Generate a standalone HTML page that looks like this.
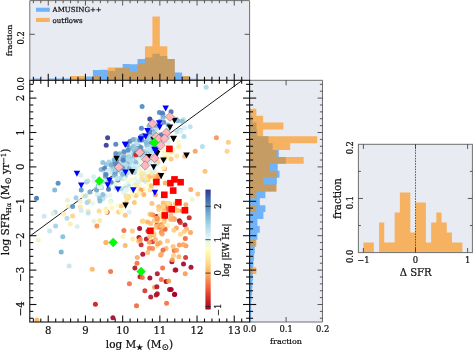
<!DOCTYPE html>
<html lang="en"><head><meta charset="utf-8"><title>SFR vs stellar mass</title>
<style>html,body{margin:0;padding:0;background:#fff}svg{display:block;will-change:transform}</style></head>
<body>
<svg width="473" height="352" viewBox="0 0 473 352" font-family='"DejaVu Serif", "Liberation Serif", serif' fill="#111">
<style>text{stroke:#111;stroke-width:0.22px}</style>
<rect x="0.00" y="0.00" width="473.00" height="352.00" fill="#fff" />
<rect x="29.80" y="0.60" width="219.80" height="79.70" fill="#e9ebf3" />
<path d="M33.37 80.30L33.37 78.50L40.81 78.50L40.81 80.30ZM48.25 80.30L48.25 78.50L55.69 78.50L55.69 78.50L63.13 78.50L63.13 78.50L70.57 78.50L70.57 78.80L78.01 78.80L78.01 78.30L85.45 78.30L85.45 76.40L92.89 76.40L92.89 70.10L100.33 70.10L100.33 69.70L107.77 69.70L107.77 71.10L115.21 71.10L115.21 68.00L122.65 68.00L122.65 63.90L130.09 63.90L130.09 64.30L137.53 64.30L137.53 58.90L144.97 58.90L144.97 57.60L152.41 57.60L152.41 53.80L159.85 53.80L159.85 55.90L167.29 55.90L167.29 58.90L174.73 58.90L174.73 72.50L182.17 72.50L182.17 76.50L189.61 76.50L189.61 78.70L197.05 78.70L197.05 79.30L204.49 79.30L204.49 79.30L211.93 79.30L211.93 80.30Z" fill="#1e90ff" fill-opacity="0.6"/>
<path d="M70.57 80.30L70.57 76.04L78.01 76.04L78.01 76.04L85.45 76.04L85.45 80.30ZM92.89 80.30L92.89 76.04L100.33 76.04L100.33 80.30ZM107.77 80.30L107.77 67.52L115.21 67.52L115.21 67.52L122.65 67.52L122.65 67.52L130.09 67.52L130.09 71.78L137.53 71.78L137.53 63.26L144.97 63.26L144.97 46.22L152.41 46.22L152.41 16.40L159.85 16.40L159.85 46.22L167.29 46.22L167.29 59.00L174.73 59.00L174.73 80.30ZM182.17 80.30L182.17 76.04L189.61 76.04L189.61 80.30Z" fill="#ff8c00" fill-opacity="0.6"/>
<rect x="249.60" y="80.30" width="72.90" height="241.70" fill="#e9ebf3" />
<path d="M249.60 108.75L250.60 108.75L250.60 115.64L252.60 115.64L252.60 122.53L256.50 122.53L256.50 129.42L257.30 129.42L257.30 136.31L268.50 136.31L268.50 143.20L272.60 143.20L272.60 150.09L278.80 150.09L278.80 156.98L285.90 156.98L285.90 163.87L277.70 163.87L277.70 170.76L279.50 170.76L279.50 177.65L276.90 177.65L276.90 184.54L276.10 184.54L276.10 191.43L265.40 191.43L265.40 198.32L259.80 198.32L259.80 205.21L265.40 205.21L265.40 212.10L263.40 212.10L263.40 218.99L257.40 218.99L257.40 225.88L259.80 225.88L259.80 232.77L257.40 232.77L257.40 239.66L255.60 239.66L255.60 246.55L254.80 246.55L254.80 253.44L254.10 253.44L254.10 260.33L253.40 260.33L253.40 267.22L252.60 267.22L252.60 274.11L252.80 274.11L252.80 281.00L252.40 281.00L252.40 287.89L252.10 287.89L252.10 294.78L251.60 294.78L251.60 301.67L251.20 301.67L251.20 308.56L251.20 308.56L251.20 315.45L251.20 315.45L251.20 322.00L249.60 322.00Z" fill="#1e90ff" fill-opacity="0.6"/>
<path d="M249.60 108.75L256.36 108.75L256.36 115.64L263.12 115.64L263.12 122.53L283.40 122.53L283.40 129.42L263.12 129.42L263.12 136.31L317.20 136.31L317.20 143.20L290.16 143.20L290.16 150.09L276.64 150.09L276.64 156.98L303.68 156.98L303.68 163.87L269.88 163.87L269.88 170.76L276.64 170.76L276.64 177.65L263.12 177.65L263.12 184.54L276.64 184.54L276.64 191.43L256.36 191.43L256.36 198.32L249.60 198.32ZM249.60 205.21L256.36 205.21L256.36 212.10L249.60 212.10ZM249.60 239.66L256.36 239.66L256.36 246.55L249.60 246.55ZM249.60 267.22L256.36 267.22L256.36 274.11L249.60 274.11Z" fill="#ff8c00" fill-opacity="0.6"/>
<rect x="358.40" y="144.30" width="114.00" height="108.30" fill="#e9ebf3" />
<path d="M363.40 252.60L363.40 242.60L368.61 242.60L368.61 242.60L373.82 242.60L373.82 252.60ZM379.03 252.60L379.03 222.60L384.24 222.60L384.24 242.60L389.45 242.60L389.45 242.60L394.66 242.60L394.66 212.60L399.87 212.60L399.87 192.60L405.08 192.60L405.08 192.60L410.29 192.60L410.29 232.60L415.50 232.60L415.50 202.60L420.71 202.60L420.71 202.60L425.92 202.60L425.92 242.60L431.13 242.60L431.13 222.60L436.34 222.60L436.34 212.60L441.55 212.60L441.55 222.60L446.76 222.60L446.76 232.60L451.97 232.60L451.97 242.60L457.18 242.60L457.18 242.60L462.39 242.60L462.39 252.60Z" fill="#ff8c00" fill-opacity="0.6"/>
<line x1="415.50" y1="144.30" x2="415.50" y2="252.60" stroke="#222" stroke-width="0.7" stroke-dasharray="1.6 1.1"/>
<line x1="29.8" y1="236.2" x2="242.3" y2="80.3" stroke="#1a1a1a" stroke-width="1"/>
<g><circle cx="36.5" cy="198.3" r="2.5" fill="#3a78b8" fill-opacity="0.9"/>
<circle cx="58.1" cy="183.3" r="2.5" fill="#4a88c4" fill-opacity="0.9"/>
<circle cx="54.7" cy="190.1" r="2.5" fill="#7ab4d8" fill-opacity="0.9"/>
<circle cx="80.8" cy="175.2" r="2.5" fill="#d8ecf4" fill-opacity="0.9"/>
<circle cx="81.2" cy="190.1" r="2.5" fill="#5a9acb" fill-opacity="0.9"/>
<circle cx="76.0" cy="197.8" r="2.5" fill="#9ccae4" fill-opacity="0.9"/>
<circle cx="67.5" cy="200.3" r="2.5" fill="#e8f0d0" fill-opacity="0.9"/>
<circle cx="68.4" cy="206.3" r="2.5" fill="#fdeeb0" fill-opacity="0.9"/>
<circle cx="72.6" cy="206.5" r="2.5" fill="#4f94c8" fill-opacity="0.9"/>
<circle cx="80.3" cy="207.1" r="2.5" fill="#fde8a0" fill-opacity="0.9"/>
<circle cx="88.8" cy="201.2" r="2.5" fill="#fdd49a" fill-opacity="0.9"/>
<circle cx="87.1" cy="195.2" r="2.5" fill="#fff5c0" fill-opacity="0.9"/>
<circle cx="82.9" cy="196.0" r="2.5" fill="#fff5c0" fill-opacity="0.9"/>
<circle cx="87.1" cy="202.6" r="2.5" fill="#a8d4e8" fill-opacity="0.9"/>
<circle cx="80.3" cy="201.4" r="2.5" fill="#e8f3d8" fill-opacity="0.9"/>
<circle cx="81.2" cy="210.6" r="2.5" fill="#d0eaf2" fill-opacity="0.9"/>
<circle cx="88.0" cy="211.1" r="2.5" fill="#fdeea8" fill-opacity="0.9"/>
<circle cx="99.1" cy="211.1" r="2.5" fill="#fdd98a" fill-opacity="0.9"/>
<circle cx="107.1" cy="212.3" r="2.5" fill="#d73027" fill-opacity="0.9"/>
<circle cx="105.9" cy="208.9" r="2.5" fill="#fdf0b0" fill-opacity="0.9"/>
<circle cx="55.1" cy="212.3" r="2.5" fill="#a8d4e8" fill-opacity="0.9"/>
<circle cx="53.0" cy="213.6" r="2.5" fill="#e4f1dc" fill-opacity="0.9"/>
<circle cx="44.2" cy="216.2" r="2.5" fill="#c8e6f0" fill-opacity="0.9"/>
<circle cx="63.6" cy="214.0" r="2.5" fill="#fdf0b0" fill-opacity="0.9"/>
<circle cx="72.6" cy="215.9" r="2.5" fill="#fdd080" fill-opacity="0.9"/>
<circle cx="67.0" cy="218.3" r="2.5" fill="#b0d8ea" fill-opacity="0.9"/>
<circle cx="70.4" cy="223.9" r="2.5" fill="#fdf0a8" fill-opacity="0.9"/>
<circle cx="55.6" cy="225.9" r="2.5" fill="#9fd0e6" fill-opacity="0.9"/>
<circle cx="77.2" cy="226.4" r="2.5" fill="#d8f0ec" fill-opacity="0.9"/>
<circle cx="94.0" cy="221.3" r="2.5" fill="#e4f1dc" fill-opacity="0.9"/>
<circle cx="96.9" cy="225.9" r="2.5" fill="#fd8d3c" fill-opacity="0.9"/>
<circle cx="49.6" cy="231.0" r="2.5" fill="#c0e4f0" fill-opacity="0.9"/>
<circle cx="62.8" cy="236.7" r="2.5" fill="#7fbcdc" fill-opacity="0.9"/>
<circle cx="38.2" cy="240.1" r="2.5" fill="#f0f5c0" fill-opacity="0.9"/>
<circle cx="61.2" cy="252.0" r="2.5" fill="#6aaed6" fill-opacity="0.9"/>
<circle cx="105.9" cy="242.6" r="2.5" fill="#fdb567" fill-opacity="0.9"/>
<circle cx="69.1" cy="266.0" r="2.5" fill="#c4e4f0" fill-opacity="0.9"/>
<circle cx="92.2" cy="269.3" r="2.5" fill="#fdb567" fill-opacity="0.9"/>
<circle cx="110.6" cy="271.5" r="2.5" fill="#f46d43" fill-opacity="0.9"/>
<circle cx="95.4" cy="304.3" r="2.5" fill="#c4161c" fill-opacity="0.9"/>
<circle cx="112.9" cy="317.8" r="2.5" fill="#a50026" fill-opacity="0.9"/>
<circle cx="36.9" cy="320.0" r="2.5" fill="#fdb45c" fill-opacity="0.9"/>
<circle cx="107.6" cy="137.8" r="2.5" fill="#313695" fill-opacity="0.9"/>
<circle cx="106.2" cy="145.3" r="2.5" fill="#313695" fill-opacity="0.9"/>
<circle cx="115.8" cy="144.3" r="2.5" fill="#4a7fbd" fill-opacity="0.9"/>
<circle cx="142.1" cy="106.4" r="2.5" fill="#4a88c4" fill-opacity="0.9"/>
<circle cx="159.4" cy="112.6" r="2.5" fill="#4a88c4" fill-opacity="0.9"/>
<circle cx="162.8" cy="114.6" r="2.5" fill="#5a95ca" fill-opacity="0.9"/>
<circle cx="149.8" cy="118.9" r="2.5" fill="#313695" fill-opacity="0.9"/>
<circle cx="141.4" cy="128.3" r="2.5" fill="#4a88c4" fill-opacity="0.9"/>
<circle cx="206.2" cy="87.3" r="2.5" fill="#a8d8ea" fill-opacity="0.9"/>
<circle cx="184.5" cy="127.8" r="2.5" fill="#d6eef5" fill-opacity="0.9"/>
<circle cx="216.4" cy="137.7" r="2.5" fill="#f98e52" fill-opacity="0.9"/>
<circle cx="228.3" cy="142.3" r="2.5" fill="#fdc978" fill-opacity="0.9"/>
<circle cx="227.1" cy="151.3" r="2.5" fill="#fdd080" fill-opacity="0.9"/>
<circle cx="202.4" cy="146.5" r="2.5" fill="#b0dcea" fill-opacity="0.9"/>
<circle cx="195.2" cy="151.3" r="2.5" fill="#fba05b" fill-opacity="0.9"/>
<circle cx="205.0" cy="171.3" r="2.5" fill="#fdc070" fill-opacity="0.9"/>
<circle cx="190.8" cy="189.5" r="2.5" fill="#fba05b" fill-opacity="0.9"/>
<circle cx="197.8" cy="193.9" r="2.5" fill="#fdc27a" fill-opacity="0.9"/>
<circle cx="192.2" cy="199.5" r="2.5" fill="#edf5d0" fill-opacity="0.9"/>
<circle cx="125.2" cy="215.2" r="2.5" fill="#fdc27a" fill-opacity="0.9"/>
<circle cx="129.3" cy="212.2" r="2.5" fill="#d8eef4" fill-opacity="0.9"/>
<circle cx="123.9" cy="230.6" r="2.5" fill="#f46d43" fill-opacity="0.9"/>
<circle cx="123.0" cy="236.6" r="2.5" fill="#fff3b8" fill-opacity="0.9"/>
<circle cx="132.8" cy="239.1" r="2.5" fill="#fee9a0" fill-opacity="0.9"/>
<circle cx="106.0" cy="242.5" r="2.5" fill="#fdb567" fill-opacity="0.9"/>
<circle cx="125.2" cy="245.4" r="2.5" fill="#fdb567" fill-opacity="0.9"/>
<circle cx="139.6" cy="228.4" r="2.5" fill="#a50026" fill-opacity="0.9"/>
<circle cx="156.8" cy="216.6" r="2.5" fill="#a50026" fill-opacity="0.9"/>
<circle cx="146.4" cy="239.1" r="2.5" fill="#b0102a" fill-opacity="0.9"/>
<circle cx="152.5" cy="241.7" r="2.5" fill="#d73027" fill-opacity="0.9"/>
<circle cx="129.4" cy="283.8" r="2.5" fill="#f46d43" fill-opacity="0.9"/>
<circle cx="136.5" cy="305.8" r="2.5" fill="#f4623c" fill-opacity="0.9"/>
<circle cx="137.0" cy="263.2" r="2.5" fill="#f46d43" fill-opacity="0.9"/>
<circle cx="134.9" cy="267.9" r="2.5" fill="#b0102a" fill-opacity="0.9"/>
<circle cx="140.0" cy="276.7" r="2.5" fill="#b0102a" fill-opacity="0.9"/>
<circle cx="142.3" cy="277.6" r="2.5" fill="#f46d43" fill-opacity="0.9"/>
<circle cx="149.9" cy="278.1" r="2.5" fill="#a50026" fill-opacity="0.9"/>
<circle cx="157.3" cy="273.7" r="2.5" fill="#b0102a" fill-opacity="0.9"/>
<circle cx="162.6" cy="267.9" r="2.5" fill="#f46d43" fill-opacity="0.9"/>
<circle cx="175.8" cy="270.0" r="2.5" fill="#a50026" fill-opacity="0.9"/>
<circle cx="161.3" cy="279.4" r="2.5" fill="#f46d43" fill-opacity="0.9"/>
<circle cx="166.1" cy="281.5" r="2.5" fill="#a50026" fill-opacity="0.9"/>
<circle cx="168.7" cy="281.1" r="2.5" fill="#fd9a4c" fill-opacity="0.9"/>
<circle cx="154.6" cy="287.3" r="2.5" fill="#fd9a4c" fill-opacity="0.9"/>
<circle cx="156.9" cy="286.8" r="2.5" fill="#b0102a" fill-opacity="0.9"/>
<circle cx="144.9" cy="290.8" r="2.5" fill="#d73027" fill-opacity="0.9"/>
<circle cx="169.6" cy="289.6" r="2.5" fill="#a50026" fill-opacity="0.9"/>
<circle cx="174.5" cy="294.4" r="2.5" fill="#a50026" fill-opacity="0.9"/>
<circle cx="157.3" cy="293.8" r="2.5" fill="#b0102a" fill-opacity="0.9"/>
<circle cx="156.2" cy="294.9" r="2.5" fill="#b0102a" fill-opacity="0.9"/>
<circle cx="150.7" cy="297.0" r="2.5" fill="#b0102a" fill-opacity="0.9"/>
<circle cx="166.6" cy="303.2" r="2.5" fill="#f46d43" fill-opacity="0.9"/>
<circle cx="171.9" cy="261.8" r="2.5" fill="#a50026" fill-opacity="0.9"/>
<circle cx="179.3" cy="245.1" r="2.5" fill="#fd9a4c" fill-opacity="0.9"/>
<circle cx="185.9" cy="245.8" r="2.5" fill="#fd9a4c" fill-opacity="0.9"/>
<circle cx="174.2" cy="250.5" r="2.5" fill="#f46d43" fill-opacity="0.9"/>
<circle cx="178.9" cy="256.8" r="2.5" fill="#fdb567" fill-opacity="0.9"/>
<circle cx="185.6" cy="257.5" r="2.5" fill="#d73027" fill-opacity="0.9"/>
<circle cx="172.3" cy="259.8" r="2.5" fill="#fd9a4c" fill-opacity="0.9"/>
<circle cx="183.5" cy="264.0" r="2.5" fill="#a50026" fill-opacity="0.9"/>
<circle cx="191.0" cy="267.3" r="2.5" fill="#a50026" fill-opacity="0.9"/>
<circle cx="175.1" cy="269.9" r="2.5" fill="#b0102a" fill-opacity="0.9"/>
<circle cx="185.2" cy="273.8" r="2.5" fill="#fd9a4c" fill-opacity="0.9"/>
<circle cx="171.2" cy="289.4" r="2.5" fill="#a50026" fill-opacity="0.9"/>
<circle cx="174.7" cy="294.3" r="2.5" fill="#a50026" fill-opacity="0.9"/>
<circle cx="179.4" cy="220.8" r="2.5" fill="#a50026" fill-opacity="0.9"/>
<circle cx="185.0" cy="225.1" r="2.5" fill="#b0102a" fill-opacity="0.9"/>
<circle cx="124.4" cy="161.6" r="2.5" fill="#addae9" fill-opacity="0.9"/>
<circle cx="123.1" cy="168.6" r="2.5" fill="#a2d2e5" fill-opacity="0.9"/>
<circle cx="152.8" cy="142.9" r="2.5" fill="#94c6df" fill-opacity="0.9"/>
<circle cx="134.1" cy="156.7" r="2.5" fill="#bae1ed" fill-opacity="0.9"/>
<circle cx="92.8" cy="203.2" r="2.5" fill="#e7f6ec" fill-opacity="0.9"/>
<circle cx="119.7" cy="153.7" r="2.5" fill="#75aed1" fill-opacity="0.9"/>
<circle cx="136.8" cy="153.4" r="2.5" fill="#c1e4ef" fill-opacity="0.9"/>
<circle cx="167.8" cy="144.1" r="2.5" fill="#f2fad7" fill-opacity="0.9"/>
<circle cx="122.4" cy="168.1" r="2.5" fill="#8ec2dc" fill-opacity="0.9"/>
<circle cx="135.5" cy="164.0" r="2.5" fill="#b0dcea" fill-opacity="0.9"/>
<circle cx="112.2" cy="172.7" r="2.5" fill="#92c5de" fill-opacity="0.9"/>
<circle cx="97.2" cy="194.6" r="2.5" fill="#d4edf5" fill-opacity="0.9"/>
<circle cx="127.7" cy="170.1" r="2.5" fill="#aad8e9" fill-opacity="0.9"/>
<circle cx="128.6" cy="162.4" r="2.5" fill="#c2e4f0" fill-opacity="0.9"/>
<circle cx="161.7" cy="135.4" r="2.5" fill="#9fcfe4" fill-opacity="0.9"/>
<circle cx="101.4" cy="187.5" r="2.5" fill="#73acd1" fill-opacity="0.9"/>
<circle cx="108.7" cy="181.6" r="2.5" fill="#79b1d3" fill-opacity="0.9"/>
<circle cx="85.3" cy="195.9" r="2.5" fill="#b9e0ed" fill-opacity="0.9"/>
<circle cx="88.2" cy="213.0" r="2.5" fill="#bbe1ee" fill-opacity="0.9"/>
<circle cx="113.8" cy="174.4" r="2.5" fill="#b3ddeb" fill-opacity="0.9"/>
<circle cx="135.4" cy="154.1" r="2.5" fill="#5e93c3" fill-opacity="0.9"/>
<circle cx="143.6" cy="151.5" r="2.5" fill="#7bb3d4" fill-opacity="0.9"/>
<circle cx="151.0" cy="141.9" r="2.5" fill="#eff9dd" fill-opacity="0.9"/>
<circle cx="116.1" cy="167.5" r="2.5" fill="#bde2ee" fill-opacity="0.9"/>
<circle cx="101.2" cy="169.6" r="2.5" fill="#7ab2d4" fill-opacity="0.9"/>
<circle cx="126.7" cy="163.4" r="2.5" fill="#87bcd9" fill-opacity="0.9"/>
<circle cx="115.4" cy="175.7" r="2.5" fill="#83b9d7" fill-opacity="0.9"/>
<circle cx="130.6" cy="179.8" r="2.5" fill="#fffcba" fill-opacity="0.9"/>
<circle cx="99.6" cy="185.0" r="2.5" fill="#b2dceb" fill-opacity="0.9"/>
<circle cx="123.4" cy="163.3" r="2.5" fill="#f1fad9" fill-opacity="0.9"/>
<circle cx="112.7" cy="169.2" r="2.5" fill="#4a7bb7" fill-opacity="0.9"/>
<circle cx="148.9" cy="142.7" r="2.5" fill="#94c6df" fill-opacity="0.9"/>
<circle cx="126.1" cy="162.2" r="2.5" fill="#8bc0db" fill-opacity="0.9"/>
<circle cx="130.0" cy="162.9" r="2.5" fill="#a4d3e6" fill-opacity="0.9"/>
<circle cx="120.6" cy="171.6" r="2.5" fill="#b2ddeb" fill-opacity="0.9"/>
<circle cx="150.3" cy="135.3" r="2.5" fill="#5c90c2" fill-opacity="0.9"/>
<circle cx="105.3" cy="177.8" r="2.5" fill="#94c6df" fill-opacity="0.9"/>
<circle cx="135.2" cy="159.2" r="2.5" fill="#5b90c2" fill-opacity="0.9"/>
<circle cx="183.5" cy="119.5" r="2.5" fill="#bde2ee" fill-opacity="0.9"/>
<circle cx="127.8" cy="153.3" r="2.5" fill="#8fc3dd" fill-opacity="0.9"/>
<circle cx="152.2" cy="155.0" r="2.5" fill="#d9eff6" fill-opacity="0.9"/>
<circle cx="151.0" cy="144.9" r="2.5" fill="#ddf2f7" fill-opacity="0.9"/>
<circle cx="122.5" cy="162.0" r="2.5" fill="#6fa8ce" fill-opacity="0.9"/>
<circle cx="144.0" cy="165.6" r="2.5" fill="#e5f5ee" fill-opacity="0.9"/>
<circle cx="114.3" cy="174.4" r="2.5" fill="#6197c5" fill-opacity="0.9"/>
<circle cx="126.9" cy="157.7" r="2.5" fill="#c6e6f1" fill-opacity="0.9"/>
<circle cx="104.8" cy="172.7" r="2.5" fill="#a9d7e8" fill-opacity="0.9"/>
<circle cx="132.1" cy="154.7" r="2.5" fill="#8ec2dc" fill-opacity="0.9"/>
<circle cx="159.5" cy="135.0" r="2.5" fill="#cce9f2" fill-opacity="0.9"/>
<circle cx="132.8" cy="162.9" r="2.5" fill="#e4f5f0" fill-opacity="0.9"/>
<circle cx="89.2" cy="191.6" r="2.5" fill="#dcf1f7" fill-opacity="0.9"/>
<circle cx="134.8" cy="165.3" r="2.5" fill="#9ecfe4" fill-opacity="0.9"/>
<circle cx="86.6" cy="181.9" r="2.5" fill="#9acce2" fill-opacity="0.9"/>
<circle cx="116.7" cy="161.0" r="2.5" fill="#4e7fb9" fill-opacity="0.9"/>
<circle cx="155.0" cy="131.1" r="2.5" fill="#578bbf" fill-opacity="0.9"/>
<circle cx="126.0" cy="168.7" r="2.5" fill="#79b1d3" fill-opacity="0.9"/>
<circle cx="161.3" cy="140.8" r="2.5" fill="#fffebd" fill-opacity="0.9"/>
<circle cx="121.5" cy="157.3" r="2.5" fill="#d4edf5" fill-opacity="0.9"/>
<circle cx="129.8" cy="155.0" r="2.5" fill="#9acce2" fill-opacity="0.9"/>
<circle cx="159.2" cy="144.0" r="2.5" fill="#aedbea" fill-opacity="0.9"/>
<circle cx="115.2" cy="165.3" r="2.5" fill="#eaf7e6" fill-opacity="0.9"/>
<circle cx="106.2" cy="170.7" r="2.5" fill="#b6deec" fill-opacity="0.9"/>
<circle cx="125.8" cy="165.0" r="2.5" fill="#80b7d6" fill-opacity="0.9"/>
<circle cx="135.1" cy="156.3" r="2.5" fill="#c1e4ef" fill-opacity="0.9"/>
<circle cx="125.6" cy="175.2" r="2.5" fill="#e3f4f3" fill-opacity="0.9"/>
<circle cx="153.6" cy="143.5" r="2.5" fill="#bce2ee" fill-opacity="0.9"/>
<circle cx="130.2" cy="154.9" r="2.5" fill="#97c9e0" fill-opacity="0.9"/>
<circle cx="104.1" cy="179.5" r="2.5" fill="#f8fccc" fill-opacity="0.9"/>
<circle cx="110.1" cy="182.5" r="2.5" fill="#f1fad8" fill-opacity="0.9"/>
<circle cx="127.4" cy="172.7" r="2.5" fill="#d3edf4" fill-opacity="0.9"/>
<circle cx="115.9" cy="187.9" r="2.5" fill="#b9e0ed" fill-opacity="0.9"/>
<circle cx="123.9" cy="151.4" r="2.5" fill="#afdbea" fill-opacity="0.9"/>
<circle cx="147.2" cy="142.9" r="2.5" fill="#4a7bb7" fill-opacity="0.9"/>
<circle cx="137.2" cy="163.3" r="2.5" fill="#f7fccd" fill-opacity="0.9"/>
<circle cx="149.7" cy="136.4" r="2.5" fill="#a5d4e6" fill-opacity="0.9"/>
<circle cx="119.7" cy="163.6" r="2.5" fill="#a6d5e7" fill-opacity="0.9"/>
<circle cx="109.6" cy="171.0" r="2.5" fill="#5082bb" fill-opacity="0.9"/>
<circle cx="127.4" cy="172.6" r="2.5" fill="#b2dceb" fill-opacity="0.9"/>
<circle cx="136.4" cy="150.2" r="2.5" fill="#a0d0e4" fill-opacity="0.9"/>
<circle cx="125.7" cy="166.3" r="2.5" fill="#aad8e8" fill-opacity="0.9"/>
<circle cx="111.2" cy="182.3" r="2.5" fill="#4a7bb7" fill-opacity="0.9"/>
<circle cx="155.1" cy="139.5" r="2.5" fill="#a7d6e7" fill-opacity="0.9"/>
<circle cx="167.1" cy="131.0" r="2.5" fill="#a7d5e7" fill-opacity="0.9"/>
<circle cx="141.5" cy="140.3" r="2.5" fill="#c0e3ef" fill-opacity="0.9"/>
<circle cx="159.2" cy="125.4" r="2.5" fill="#cfebf3" fill-opacity="0.9"/>
<circle cx="115.3" cy="160.7" r="2.5" fill="#7db4d5" fill-opacity="0.9"/>
<circle cx="176.7" cy="118.9" r="2.5" fill="#d0ebf4" fill-opacity="0.9"/>
<circle cx="100.4" cy="181.5" r="2.5" fill="#b3ddeb" fill-opacity="0.9"/>
<circle cx="110.8" cy="173.6" r="2.5" fill="#f6fbd0" fill-opacity="0.9"/>
<circle cx="113.5" cy="166.8" r="2.5" fill="#75aed1" fill-opacity="0.9"/>
<circle cx="140.1" cy="151.2" r="2.5" fill="#87bcd9" fill-opacity="0.9"/>
<circle cx="134.6" cy="163.0" r="2.5" fill="#72abd0" fill-opacity="0.9"/>
<circle cx="116.2" cy="171.8" r="2.5" fill="#aedbea" fill-opacity="0.9"/>
<circle cx="133.5" cy="145.9" r="2.5" fill="#8cc0db" fill-opacity="0.9"/>
<circle cx="139.3" cy="146.2" r="2.5" fill="#87bcd9" fill-opacity="0.9"/>
<circle cx="125.8" cy="173.4" r="2.5" fill="#b1dceb" fill-opacity="0.9"/>
<circle cx="109.5" cy="170.6" r="2.5" fill="#cfebf3" fill-opacity="0.9"/>
<circle cx="147.0" cy="160.3" r="2.5" fill="#eef8de" fill-opacity="0.9"/>
<circle cx="113.1" cy="170.0" r="2.5" fill="#5a8ec1" fill-opacity="0.9"/>
<circle cx="129.0" cy="168.6" r="2.5" fill="#b5deec" fill-opacity="0.9"/>
<circle cx="137.9" cy="147.5" r="2.5" fill="#cce9f2" fill-opacity="0.9"/>
<circle cx="130.9" cy="154.2" r="2.5" fill="#b7dfec" fill-opacity="0.9"/>
<circle cx="133.2" cy="161.0" r="2.5" fill="#4a7bb7" fill-opacity="0.9"/>
<circle cx="114.2" cy="175.0" r="2.5" fill="#87bcd9" fill-opacity="0.9"/>
<circle cx="125.9" cy="156.6" r="2.5" fill="#9ccde2" fill-opacity="0.9"/>
<circle cx="115.3" cy="172.6" r="2.5" fill="#aedaea" fill-opacity="0.9"/>
<circle cx="129.9" cy="154.7" r="2.5" fill="#4a7bb7" fill-opacity="0.9"/>
<circle cx="148.6" cy="147.1" r="2.5" fill="#a1d1e5" fill-opacity="0.9"/>
<circle cx="159.0" cy="140.3" r="2.5" fill="#e6f5ed" fill-opacity="0.9"/>
<circle cx="145.8" cy="155.6" r="2.5" fill="#f0f9db" fill-opacity="0.9"/>
<circle cx="124.9" cy="177.0" r="2.5" fill="#7eb5d5" fill-opacity="0.9"/>
<circle cx="141.4" cy="162.6" r="2.5" fill="#f4fbd2" fill-opacity="0.9"/>
<circle cx="147.2" cy="141.4" r="2.5" fill="#eaf7e6" fill-opacity="0.9"/>
<circle cx="128.9" cy="157.5" r="2.5" fill="#d5eef5" fill-opacity="0.9"/>
<circle cx="116.2" cy="183.3" r="2.5" fill="#cae8f2" fill-opacity="0.9"/>
<circle cx="135.5" cy="160.1" r="2.5" fill="#a1d1e5" fill-opacity="0.9"/>
<circle cx="101.1" cy="187.0" r="2.5" fill="#e1f3f7" fill-opacity="0.9"/>
<circle cx="106.3" cy="164.4" r="2.5" fill="#8fc3dd" fill-opacity="0.9"/>
<circle cx="102.8" cy="181.8" r="2.5" fill="#b2ddeb" fill-opacity="0.9"/>
<circle cx="123.2" cy="166.7" r="2.5" fill="#97c9e0" fill-opacity="0.9"/>
<circle cx="128.1" cy="168.6" r="2.5" fill="#c3e5f0" fill-opacity="0.9"/>
<circle cx="111.4" cy="169.0" r="2.5" fill="#bee2ee" fill-opacity="0.9"/>
<circle cx="95.7" cy="188.9" r="2.5" fill="#bbe1ee" fill-opacity="0.9"/>
<circle cx="129.1" cy="148.8" r="2.5" fill="#649ac7" fill-opacity="0.9"/>
<circle cx="156.8" cy="135.9" r="2.5" fill="#92c5de" fill-opacity="0.9"/>
<circle cx="118.3" cy="181.8" r="2.5" fill="#daf0f6" fill-opacity="0.9"/>
<circle cx="155.7" cy="146.9" r="2.5" fill="#b6deec" fill-opacity="0.9"/>
<circle cx="149.1" cy="126.1" r="2.5" fill="#7db4d5" fill-opacity="0.9"/>
<circle cx="128.4" cy="153.7" r="2.5" fill="#f5fbd2" fill-opacity="0.9"/>
<circle cx="128.2" cy="157.4" r="2.5" fill="#82b8d7" fill-opacity="0.9"/>
<circle cx="124.9" cy="159.1" r="2.5" fill="#73acd1" fill-opacity="0.9"/>
<circle cx="157.4" cy="130.3" r="2.5" fill="#ebf7e3" fill-opacity="0.9"/>
<circle cx="127.5" cy="161.5" r="2.5" fill="#4c7db8" fill-opacity="0.9"/>
<circle cx="131.8" cy="160.2" r="2.5" fill="#d9f0f6" fill-opacity="0.9"/>
<circle cx="131.3" cy="156.0" r="2.5" fill="#81b7d7" fill-opacity="0.9"/>
<circle cx="130.7" cy="161.5" r="2.5" fill="#aad8e8" fill-opacity="0.9"/>
<circle cx="87.9" cy="180.9" r="2.5" fill="#b6deec" fill-opacity="0.9"/>
<circle cx="124.7" cy="157.8" r="2.5" fill="#fffbb9" fill-opacity="0.9"/>
<circle cx="180.3" cy="130.3" r="2.5" fill="#a2d2e5" fill-opacity="0.9"/>
<circle cx="139.7" cy="153.4" r="2.5" fill="#94c7df" fill-opacity="0.9"/>
<circle cx="114.5" cy="173.0" r="2.5" fill="#85bbd9" fill-opacity="0.9"/>
<circle cx="137.8" cy="148.5" r="2.5" fill="#4a7bb7" fill-opacity="0.9"/>
<circle cx="117.6" cy="183.1" r="2.5" fill="#fffebe" fill-opacity="0.9"/>
<circle cx="96.6" cy="190.1" r="2.5" fill="#6ca3cc" fill-opacity="0.9"/>
<circle cx="140.9" cy="153.4" r="2.5" fill="#e5f5ef" fill-opacity="0.9"/>
<circle cx="177.9" cy="120.8" r="2.5" fill="#7cb3d4" fill-opacity="0.9"/>
<circle cx="147.8" cy="152.5" r="2.5" fill="#72abd0" fill-opacity="0.9"/>
<circle cx="127.9" cy="151.2" r="2.5" fill="#a8d6e8" fill-opacity="0.9"/>
<circle cx="156.7" cy="139.7" r="2.5" fill="#8ec2dc" fill-opacity="0.9"/>
<circle cx="151.4" cy="151.3" r="2.5" fill="#aedbea" fill-opacity="0.9"/>
<circle cx="177.0" cy="131.4" r="2.5" fill="#b7dfec" fill-opacity="0.9"/>
<circle cx="146.9" cy="145.2" r="2.5" fill="#86bbd9" fill-opacity="0.9"/>
<circle cx="138.8" cy="170.7" r="2.5" fill="#fcfec4" fill-opacity="0.9"/>
<circle cx="110.6" cy="171.5" r="2.5" fill="#cdeaf3" fill-opacity="0.9"/>
<circle cx="126.8" cy="157.9" r="2.5" fill="#91c4de" fill-opacity="0.9"/>
<circle cx="148.3" cy="141.3" r="2.5" fill="#dbf0f6" fill-opacity="0.9"/>
<circle cx="98.1" cy="185.9" r="2.5" fill="#88bdda" fill-opacity="0.9"/>
<circle cx="148.2" cy="138.6" r="2.5" fill="#a0d0e4" fill-opacity="0.9"/>
<circle cx="163.9" cy="134.2" r="2.5" fill="#7cb3d4" fill-opacity="0.9"/>
<circle cx="114.8" cy="164.6" r="2.5" fill="#9ccde2" fill-opacity="0.9"/>
<circle cx="149.8" cy="161.5" r="2.5" fill="#cbe9f2" fill-opacity="0.9"/>
<circle cx="127.1" cy="158.1" r="2.5" fill="#72abd0" fill-opacity="0.9"/>
<circle cx="162.8" cy="142.3" r="2.5" fill="#e7f6ea" fill-opacity="0.9"/>
<circle cx="100.1" cy="185.8" r="2.5" fill="#b2dceb" fill-opacity="0.9"/>
<circle cx="135.4" cy="139.4" r="2.5" fill="#a2d2e5" fill-opacity="0.9"/>
<circle cx="115.2" cy="172.7" r="2.5" fill="#6aa1cb" fill-opacity="0.9"/>
<circle cx="136.4" cy="154.9" r="2.5" fill="#e0f3f8" fill-opacity="0.9"/>
<circle cx="125.6" cy="163.1" r="2.5" fill="#4a7bb7" fill-opacity="0.9"/>
<circle cx="122.2" cy="158.7" r="2.5" fill="#5f94c4" fill-opacity="0.9"/>
<circle cx="121.9" cy="173.5" r="2.5" fill="#b7dfec" fill-opacity="0.9"/>
<circle cx="163.3" cy="140.4" r="2.5" fill="#bae0ed" fill-opacity="0.9"/>
<circle cx="134.3" cy="162.4" r="2.5" fill="#e0f3f8" fill-opacity="0.9"/>
<circle cx="105.1" cy="196.1" r="2.5" fill="#d0ebf3" fill-opacity="0.9"/>
<circle cx="135.7" cy="168.4" r="2.5" fill="#b4ddeb" fill-opacity="0.9"/>
<circle cx="140.5" cy="166.8" r="2.5" fill="#f1f9d9" fill-opacity="0.9"/>
<circle cx="129.5" cy="167.7" r="2.5" fill="#70a8ce" fill-opacity="0.9"/>
<circle cx="136.6" cy="143.1" r="2.5" fill="#b2dceb" fill-opacity="0.9"/>
<circle cx="182.1" cy="121.2" r="2.5" fill="#87bdd9" fill-opacity="0.9"/>
<circle cx="102.8" cy="198.8" r="2.5" fill="#b7dfec" fill-opacity="0.9"/>
<circle cx="147.5" cy="144.3" r="2.5" fill="#649ac7" fill-opacity="0.9"/>
<circle cx="150.4" cy="143.6" r="2.5" fill="#5c90c2" fill-opacity="0.9"/>
<circle cx="102.8" cy="162.6" r="2.5" fill="#8bbfdb" fill-opacity="0.9"/>
<circle cx="150.3" cy="129.1" r="2.5" fill="#8cc0db" fill-opacity="0.9"/>
<circle cx="124.4" cy="171.5" r="2.5" fill="#9ecee3" fill-opacity="0.9"/>
<circle cx="130.8" cy="160.5" r="2.5" fill="#b0dcea" fill-opacity="0.9"/>
<circle cx="150.1" cy="131.8" r="2.5" fill="#4a7bb7" fill-opacity="0.9"/>
<circle cx="104.6" cy="168.3" r="2.5" fill="#4a7bb7" fill-opacity="0.9"/>
<circle cx="108.9" cy="184.9" r="2.5" fill="#b6dfec" fill-opacity="0.9"/>
<circle cx="137.3" cy="149.0" r="2.5" fill="#94c7df" fill-opacity="0.9"/>
<circle cx="126.7" cy="158.8" r="2.5" fill="#a4d3e6" fill-opacity="0.9"/>
<circle cx="137.7" cy="155.3" r="2.5" fill="#89beda" fill-opacity="0.9"/>
<circle cx="121.8" cy="161.6" r="2.5" fill="#b8dfed" fill-opacity="0.9"/>
<circle cx="159.4" cy="143.1" r="2.5" fill="#bbe1ee" fill-opacity="0.9"/>
<circle cx="164.8" cy="136.2" r="2.5" fill="#a6d5e7" fill-opacity="0.9"/>
<circle cx="157.0" cy="147.7" r="2.5" fill="#bbe1ee" fill-opacity="0.9"/>
<circle cx="128.3" cy="183.2" r="2.5" fill="#e1f3f6" fill-opacity="0.9"/>
<circle cx="117.3" cy="166.9" r="2.5" fill="#d1ecf4" fill-opacity="0.9"/>
<circle cx="140.9" cy="147.6" r="2.5" fill="#598cc0" fill-opacity="0.9"/>
<circle cx="146.7" cy="162.1" r="2.5" fill="#f3fad5" fill-opacity="0.9"/>
<circle cx="117.8" cy="179.9" r="2.5" fill="#4b7cb8" fill-opacity="0.9"/>
<circle cx="142.0" cy="139.9" r="2.5" fill="#5487bd" fill-opacity="0.9"/>
<circle cx="138.0" cy="162.6" r="2.5" fill="#d1ebf4" fill-opacity="0.9"/>
<circle cx="178.6" cy="142.3" r="2.5" fill="#f7fccd" fill-opacity="0.9"/>
<circle cx="139.2" cy="167.8" r="2.5" fill="#ddf2f7" fill-opacity="0.9"/>
<circle cx="132.3" cy="151.5" r="2.5" fill="#cce9f2" fill-opacity="0.9"/>
<circle cx="107.4" cy="171.3" r="2.5" fill="#d4edf5" fill-opacity="0.9"/>
<circle cx="139.9" cy="160.1" r="2.5" fill="#e4f4f1" fill-opacity="0.9"/>
<circle cx="121.3" cy="166.1" r="2.5" fill="#85bbd9" fill-opacity="0.9"/>
<circle cx="156.1" cy="128.5" r="2.5" fill="#b5deec" fill-opacity="0.9"/>
<circle cx="120.8" cy="158.7" r="2.5" fill="#9ccde2" fill-opacity="0.9"/>
<circle cx="141.5" cy="164.4" r="2.5" fill="#c3e5f0" fill-opacity="0.9"/>
<circle cx="129.4" cy="155.5" r="2.5" fill="#e7f6ec" fill-opacity="0.9"/>
<circle cx="147.8" cy="146.9" r="2.5" fill="#91c4de" fill-opacity="0.9"/>
<circle cx="139.7" cy="170.9" r="2.5" fill="#fff8b5" fill-opacity="0.9"/>
<circle cx="146.0" cy="156.6" r="2.5" fill="#cae8f2" fill-opacity="0.9"/>
<circle cx="168.1" cy="125.0" r="2.5" fill="#75aed1" fill-opacity="0.9"/>
<circle cx="134.3" cy="150.8" r="2.5" fill="#89beda" fill-opacity="0.9"/>
<circle cx="141.5" cy="162.9" r="2.5" fill="#edf8e0" fill-opacity="0.9"/>
<circle cx="149.5" cy="146.8" r="2.5" fill="#b5deec" fill-opacity="0.9"/>
<circle cx="117.3" cy="166.7" r="2.5" fill="#598cc0" fill-opacity="0.9"/>
<circle cx="139.4" cy="153.3" r="2.5" fill="#d3edf4" fill-opacity="0.9"/>
<circle cx="147.0" cy="145.1" r="2.5" fill="#94c6df" fill-opacity="0.9"/>
<circle cx="114.9" cy="169.2" r="2.5" fill="#cae8f2" fill-opacity="0.9"/>
<circle cx="180.9" cy="131.4" r="2.5" fill="#e0f3f8" fill-opacity="0.9"/>
<circle cx="178.8" cy="146.7" r="2.5" fill="#feeda3" fill-opacity="0.9"/>
<circle cx="141.0" cy="153.3" r="2.5" fill="#a4d3e6" fill-opacity="0.9"/>
<circle cx="93.8" cy="181.2" r="2.5" fill="#e6f5ed" fill-opacity="0.9"/>
<circle cx="155.3" cy="142.3" r="2.5" fill="#a1d1e5" fill-opacity="0.9"/>
<circle cx="99.4" cy="198.0" r="2.5" fill="#92c5de" fill-opacity="0.9"/>
<circle cx="146.3" cy="154.3" r="2.5" fill="#bce2ee" fill-opacity="0.9"/>
<circle cx="123.4" cy="159.1" r="2.5" fill="#7bb3d4" fill-opacity="0.9"/>
<circle cx="144.3" cy="152.3" r="2.5" fill="#6297c6" fill-opacity="0.9"/>
<circle cx="167.6" cy="136.7" r="2.5" fill="#b3ddeb" fill-opacity="0.9"/>
<circle cx="93.7" cy="176.8" r="2.5" fill="#d3ecf4" fill-opacity="0.9"/>
<circle cx="101.8" cy="181.0" r="2.5" fill="#c6e6f1" fill-opacity="0.9"/>
<circle cx="153.5" cy="157.1" r="2.5" fill="#d9f0f6" fill-opacity="0.9"/>
<circle cx="144.1" cy="159.3" r="2.5" fill="#d0ebf3" fill-opacity="0.9"/>
<circle cx="130.7" cy="148.0" r="2.5" fill="#89bdda" fill-opacity="0.9"/>
<circle cx="126.2" cy="164.4" r="2.5" fill="#b6deec" fill-opacity="0.9"/>
<circle cx="152.0" cy="138.0" r="2.5" fill="#d8eff6" fill-opacity="0.9"/>
<circle cx="120.4" cy="178.2" r="2.5" fill="#abd9e9" fill-opacity="0.9"/>
<circle cx="117.0" cy="178.7" r="2.5" fill="#c8e7f1" fill-opacity="0.9"/>
<circle cx="131.8" cy="166.3" r="2.5" fill="#bce2ee" fill-opacity="0.9"/>
<circle cx="134.6" cy="167.2" r="2.5" fill="#b6deec" fill-opacity="0.9"/>
<circle cx="152.5" cy="139.1" r="2.5" fill="#7cb3d5" fill-opacity="0.9"/>
<circle cx="105.4" cy="176.2" r="2.5" fill="#679dc9" fill-opacity="0.9"/>
<circle cx="137.9" cy="157.3" r="2.5" fill="#eff9dd" fill-opacity="0.9"/>
<circle cx="154.6" cy="140.4" r="2.5" fill="#ebf7e4" fill-opacity="0.9"/>
<circle cx="167.5" cy="117.1" r="2.5" fill="#f3fad5" fill-opacity="0.9"/>
<circle cx="135.7" cy="162.4" r="2.5" fill="#87bcd9" fill-opacity="0.9"/>
<circle cx="127.1" cy="159.5" r="2.5" fill="#b0dbea" fill-opacity="0.9"/>
<circle cx="137.3" cy="157.5" r="2.5" fill="#d8eff6" fill-opacity="0.9"/>
<circle cx="159.8" cy="134.6" r="2.5" fill="#b6dfec" fill-opacity="0.9"/>
<circle cx="146.1" cy="142.2" r="2.5" fill="#81b7d7" fill-opacity="0.9"/>
<circle cx="122.7" cy="174.2" r="2.5" fill="#7eb5d5" fill-opacity="0.9"/>
<circle cx="135.4" cy="153.3" r="2.5" fill="#659bc8" fill-opacity="0.9"/>
<circle cx="117.1" cy="164.1" r="2.5" fill="#5c90c2" fill-opacity="0.9"/>
<circle cx="99.3" cy="186.4" r="2.5" fill="#e4f5f1" fill-opacity="0.9"/>
<circle cx="164.5" cy="151.2" r="2.5" fill="#fff6b1" fill-opacity="0.9"/>
<circle cx="161.0" cy="139.4" r="2.5" fill="#e5f5ef" fill-opacity="0.9"/>
<circle cx="154.2" cy="133.1" r="2.5" fill="#9bcce2" fill-opacity="0.9"/>
<circle cx="132.2" cy="168.9" r="2.5" fill="#679dc9" fill-opacity="0.9"/>
<circle cx="162.5" cy="135.1" r="2.5" fill="#c4e5f0" fill-opacity="0.9"/>
<circle cx="159.1" cy="141.4" r="2.5" fill="#7bb3d4" fill-opacity="0.9"/>
<circle cx="113.7" cy="169.1" r="2.5" fill="#9ccde3" fill-opacity="0.9"/>
<circle cx="106.0" cy="175.2" r="2.5" fill="#8fc3dd" fill-opacity="0.9"/>
<circle cx="122.9" cy="167.9" r="2.5" fill="#6fa7ce" fill-opacity="0.9"/>
<circle cx="123.6" cy="163.3" r="2.5" fill="#b8dfed" fill-opacity="0.9"/>
<circle cx="142.3" cy="157.4" r="2.5" fill="#cbe9f2" fill-opacity="0.9"/>
<circle cx="118.3" cy="169.5" r="2.5" fill="#89bdda" fill-opacity="0.9"/>
<circle cx="123.6" cy="156.7" r="2.5" fill="#74add1" fill-opacity="0.9"/>
<circle cx="134.5" cy="166.5" r="2.5" fill="#c8e7f1" fill-opacity="0.9"/>
<circle cx="133.3" cy="166.2" r="2.5" fill="#d3ecf4" fill-opacity="0.9"/>
<circle cx="147.9" cy="149.2" r="2.5" fill="#cce9f2" fill-opacity="0.9"/>
<circle cx="156.1" cy="139.8" r="2.5" fill="#7cb3d4" fill-opacity="0.9"/>
<circle cx="139.0" cy="154.8" r="2.5" fill="#b0dbea" fill-opacity="0.9"/>
<circle cx="141.4" cy="155.0" r="2.5" fill="#9acce2" fill-opacity="0.9"/>
<circle cx="158.6" cy="150.1" r="2.5" fill="#fffebe" fill-opacity="0.9"/>
<circle cx="123.2" cy="160.2" r="2.5" fill="#4a7bb7" fill-opacity="0.9"/>
<circle cx="143.8" cy="151.7" r="2.5" fill="#afdbea" fill-opacity="0.9"/>
<circle cx="129.3" cy="171.4" r="2.5" fill="#cce9f2" fill-opacity="0.9"/>
<circle cx="105.9" cy="174.6" r="2.5" fill="#4f80ba" fill-opacity="0.9"/>
<circle cx="111.3" cy="163.7" r="2.5" fill="#b3ddeb" fill-opacity="0.9"/>
<circle cx="90.0" cy="192.0" r="2.5" fill="#72aacf" fill-opacity="0.9"/>
<circle cx="136.4" cy="166.6" r="2.5" fill="#d5eef5" fill-opacity="0.9"/>
<circle cx="161.4" cy="135.1" r="2.5" fill="#4a7bb7" fill-opacity="0.9"/>
<circle cx="128.9" cy="156.4" r="2.5" fill="#a3d3e6" fill-opacity="0.9"/>
<circle cx="109.0" cy="162.1" r="2.5" fill="#a0d0e4" fill-opacity="0.9"/>
<circle cx="144.3" cy="159.7" r="2.5" fill="#f2fad6" fill-opacity="0.9"/>
<circle cx="154.6" cy="144.9" r="2.5" fill="#86bcd9" fill-opacity="0.9"/>
<circle cx="114.5" cy="163.7" r="2.5" fill="#5487bd" fill-opacity="0.9"/>
<circle cx="124.0" cy="151.7" r="2.5" fill="#598cc0" fill-opacity="0.9"/>
<circle cx="162.4" cy="113.1" r="2.5" fill="#4e7fb9" fill-opacity="0.9"/>
<circle cx="140.6" cy="137.1" r="2.5" fill="#4470b2" fill-opacity="0.9"/>
<circle cx="163.7" cy="122.3" r="2.5" fill="#578abf" fill-opacity="0.9"/>
<circle cx="143.2" cy="135.8" r="2.5" fill="#669cc8" fill-opacity="0.9"/>
<circle cx="114.1" cy="159.7" r="2.5" fill="#76afd2" fill-opacity="0.9"/>
<circle cx="160.0" cy="121.2" r="2.5" fill="#71a9cf" fill-opacity="0.9"/>
<circle cx="163.1" cy="117.3" r="2.5" fill="#7db4d5" fill-opacity="0.9"/>
<circle cx="171.1" cy="111.8" r="2.5" fill="#426baf" fill-opacity="0.9"/>
<circle cx="115.8" cy="153.6" r="2.5" fill="#578bbf" fill-opacity="0.9"/>
<circle cx="141.6" cy="136.3" r="2.5" fill="#4d7fb9" fill-opacity="0.9"/>
<circle cx="111.1" cy="165.1" r="2.5" fill="#74add1" fill-opacity="0.9"/>
<circle cx="128.0" cy="149.9" r="2.5" fill="#588cc0" fill-opacity="0.9"/>
<circle cx="142.8" cy="136.1" r="2.5" fill="#689fca" fill-opacity="0.9"/>
<circle cx="130.0" cy="141.3" r="2.5" fill="#5284bc" fill-opacity="0.9"/>
<circle cx="139.8" cy="139.9" r="2.5" fill="#4576b4" fill-opacity="0.9"/>
<circle cx="127.3" cy="144.7" r="2.5" fill="#4c7db8" fill-opacity="0.9"/>
<circle cx="133.2" cy="139.6" r="2.5" fill="#6fa7ce" fill-opacity="0.9"/>
<circle cx="156.2" cy="125.5" r="2.5" fill="#77afd2" fill-opacity="0.9"/>
<circle cx="159.7" cy="175.7" r="2.5" fill="#fff1aa" fill-opacity="0.9"/>
<circle cx="154.1" cy="148.5" r="2.5" fill="#76afd2" fill-opacity="0.9"/>
<circle cx="167.0" cy="153.1" r="2.5" fill="#fcfec5" fill-opacity="0.9"/>
<circle cx="147.0" cy="175.3" r="2.5" fill="#fed687" fill-opacity="0.9"/>
<circle cx="146.5" cy="170.4" r="2.5" fill="#d8eff6" fill-opacity="0.9"/>
<circle cx="153.4" cy="177.9" r="2.5" fill="#fff2ab" fill-opacity="0.9"/>
<circle cx="138.8" cy="185.2" r="2.5" fill="#fed384" fill-opacity="0.9"/>
<circle cx="139.1" cy="184.4" r="2.5" fill="#ffffc0" fill-opacity="0.9"/>
<circle cx="112.0" cy="208.0" r="2.5" fill="#fff6b1" fill-opacity="0.9"/>
<circle cx="108.5" cy="189.2" r="2.5" fill="#4168ae" fill-opacity="0.9"/>
<circle cx="168.7" cy="156.9" r="2.5" fill="#fbfdc7" fill-opacity="0.9"/>
<circle cx="123.5" cy="192.5" r="2.5" fill="#e6f5ed" fill-opacity="0.9"/>
<circle cx="134.3" cy="202.6" r="2.5" fill="#fdc476" fill-opacity="0.9"/>
<circle cx="132.6" cy="193.8" r="2.5" fill="#feea9f" fill-opacity="0.9"/>
<circle cx="156.3" cy="177.8" r="2.5" fill="#fba05a" fill-opacity="0.9"/>
<circle cx="109.9" cy="195.3" r="2.5" fill="#eaf7e6" fill-opacity="0.9"/>
<circle cx="139.6" cy="174.6" r="2.5" fill="#fdfec2" fill-opacity="0.9"/>
<circle cx="134.1" cy="168.4" r="2.5" fill="#c0e3ef" fill-opacity="0.9"/>
<circle cx="134.4" cy="184.3" r="2.5" fill="#e5f5ef" fill-opacity="0.9"/>
<circle cx="155.4" cy="160.7" r="2.5" fill="#d4edf5" fill-opacity="0.9"/>
<circle cx="190.2" cy="126.7" r="2.5" fill="#b9e0ed" fill-opacity="0.9"/>
<circle cx="157.9" cy="162.2" r="2.5" fill="#fed283" fill-opacity="0.9"/>
<circle cx="155.4" cy="154.2" r="2.5" fill="#c8e7f1" fill-opacity="0.9"/>
<circle cx="154.3" cy="159.0" r="2.5" fill="#e5f5ee" fill-opacity="0.9"/>
<circle cx="136.0" cy="195.4" r="2.5" fill="#fdc678" fill-opacity="0.9"/>
<circle cx="126.9" cy="198.9" r="2.5" fill="#fee597" fill-opacity="0.9"/>
<circle cx="164.5" cy="168.7" r="2.5" fill="#fba05a" fill-opacity="0.9"/>
<circle cx="128.6" cy="186.3" r="2.5" fill="#b9e0ed" fill-opacity="0.9"/>
<circle cx="150.1" cy="189.8" r="2.5" fill="#fedc8c" fill-opacity="0.9"/>
<circle cx="118.4" cy="205.3" r="2.5" fill="#fbfdc7" fill-opacity="0.9"/>
<circle cx="163.7" cy="156.3" r="2.5" fill="#f5fbd2" fill-opacity="0.9"/>
<circle cx="110.9" cy="201.6" r="2.5" fill="#c3e5f0" fill-opacity="0.9"/>
<circle cx="128.7" cy="196.4" r="2.5" fill="#fed787" fill-opacity="0.9"/>
<circle cx="99.7" cy="220.6" r="2.5" fill="#fee99e" fill-opacity="0.9"/>
<circle cx="148.8" cy="160.5" r="2.5" fill="#d5eef5" fill-opacity="0.9"/>
<circle cx="155.4" cy="194.7" r="2.5" fill="#fba05a" fill-opacity="0.9"/>
<circle cx="143.8" cy="194.5" r="2.5" fill="#fdb265" fill-opacity="0.9"/>
<circle cx="118.5" cy="212.0" r="2.5" fill="#fed081" fill-opacity="0.9"/>
<circle cx="141.9" cy="174.8" r="2.5" fill="#c6e6f1" fill-opacity="0.9"/>
<circle cx="145.9" cy="181.6" r="2.5" fill="#cdeaf3" fill-opacity="0.9"/>
<circle cx="143.0" cy="179.8" r="2.5" fill="#b4deec" fill-opacity="0.9"/>
<circle cx="125.0" cy="185.7" r="2.5" fill="#f1fad9" fill-opacity="0.9"/>
<circle cx="125.6" cy="188.0" r="2.5" fill="#b2ddeb" fill-opacity="0.9"/>
<circle cx="129.8" cy="189.1" r="2.5" fill="#f3fad5" fill-opacity="0.9"/>
<circle cx="124.2" cy="178.8" r="2.5" fill="#9dcee3" fill-opacity="0.9"/>
<circle cx="128.5" cy="198.0" r="2.5" fill="#fee192" fill-opacity="0.9"/>
<circle cx="139.0" cy="190.5" r="2.5" fill="#fafdc9" fill-opacity="0.9"/>
<circle cx="155.0" cy="180.6" r="2.5" fill="#fdb96b" fill-opacity="0.9"/>
<circle cx="171.7" cy="151.9" r="2.5" fill="#fee394" fill-opacity="0.9"/>
<circle cx="142.7" cy="167.7" r="2.5" fill="#e7f6eb" fill-opacity="0.9"/>
<circle cx="168.2" cy="142.1" r="2.5" fill="#d5edf5" fill-opacity="0.9"/>
<circle cx="145.6" cy="166.9" r="2.5" fill="#fff8b4" fill-opacity="0.9"/>
<circle cx="148.0" cy="180.1" r="2.5" fill="#fecc7d" fill-opacity="0.9"/>
<circle cx="149.6" cy="176.3" r="2.5" fill="#f6fbd0" fill-opacity="0.9"/>
<circle cx="102.8" cy="194.4" r="2.5" fill="#86bbd9" fill-opacity="0.9"/>
<circle cx="148.3" cy="174.0" r="2.5" fill="#e2f4f4" fill-opacity="0.9"/>
<circle cx="135.4" cy="178.8" r="2.5" fill="#e9f6e8" fill-opacity="0.9"/>
<circle cx="148.3" cy="184.2" r="2.5" fill="#fffcba" fill-opacity="0.9"/>
<circle cx="184.0" cy="136.6" r="2.5" fill="#abd9e9" fill-opacity="0.9"/>
<circle cx="151.4" cy="188.0" r="2.5" fill="#feeba0" fill-opacity="0.9"/>
<circle cx="121.0" cy="188.7" r="2.5" fill="#acd9e9" fill-opacity="0.9"/>
<circle cx="143.8" cy="189.3" r="2.5" fill="#fff4ae" fill-opacity="0.9"/>
<circle cx="126.2" cy="189.9" r="2.5" fill="#e6f5ec" fill-opacity="0.9"/>
<circle cx="168.0" cy="155.3" r="2.5" fill="#f4fbd3" fill-opacity="0.9"/>
<circle cx="165.2" cy="183.1" r="2.5" fill="#fca95f" fill-opacity="0.9"/>
<circle cx="158.3" cy="177.3" r="2.5" fill="#fba05a" fill-opacity="0.9"/>
<circle cx="132.5" cy="193.9" r="2.5" fill="#fafdc8" fill-opacity="0.9"/>
<circle cx="172.9" cy="149.1" r="2.5" fill="#fffbb8" fill-opacity="0.9"/>
<circle cx="141.0" cy="190.0" r="2.5" fill="#fba05a" fill-opacity="0.9"/>
<circle cx="171.1" cy="159.0" r="2.5" fill="#fec779" fill-opacity="0.9"/>
<circle cx="149.5" cy="176.4" r="2.5" fill="#fdbd6f" fill-opacity="0.9"/>
<circle cx="158.6" cy="174.7" r="2.5" fill="#fba05a" fill-opacity="0.9"/>
<circle cx="149.3" cy="170.6" r="2.5" fill="#e4f5f0" fill-opacity="0.9"/>
<circle cx="106.2" cy="212.0" r="2.5" fill="#feffc1" fill-opacity="0.9"/>
<circle cx="184.8" cy="156.2" r="2.5" fill="#fdb76a" fill-opacity="0.9"/>
<circle cx="176.7" cy="155.9" r="2.5" fill="#fee395" fill-opacity="0.9"/>
<circle cx="126.0" cy="195.1" r="2.5" fill="#ddf2f7" fill-opacity="0.9"/>
<circle cx="146.3" cy="178.7" r="2.5" fill="#fee79b" fill-opacity="0.9"/>
<circle cx="99.9" cy="200.9" r="2.5" fill="#80b7d6" fill-opacity="0.9"/>
<circle cx="163.3" cy="140.2" r="2.5" fill="#e5f5f0" fill-opacity="0.9"/>
<circle cx="124.7" cy="178.8" r="2.5" fill="#edf8e0" fill-opacity="0.9"/>
<circle cx="121.3" cy="206.2" r="2.5" fill="#fecd7e" fill-opacity="0.9"/>
<circle cx="126.1" cy="196.6" r="2.5" fill="#fee394" fill-opacity="0.9"/>
<circle cx="156.2" cy="164.3" r="2.5" fill="#cde9f3" fill-opacity="0.9"/>
<circle cx="153.7" cy="176.1" r="2.5" fill="#fdc274" fill-opacity="0.9"/>
<circle cx="151.4" cy="185.7" r="2.5" fill="#fdc072" fill-opacity="0.9"/>
<circle cx="163.6" cy="167.8" r="2.5" fill="#fff5b0" fill-opacity="0.9"/>
<circle cx="151.7" cy="173.2" r="2.5" fill="#feea9f" fill-opacity="0.9"/>
<circle cx="142.4" cy="173.2" r="2.5" fill="#feeaa0" fill-opacity="0.9"/>
<circle cx="141.5" cy="178.6" r="2.5" fill="#fee496" fill-opacity="0.9"/>
<circle cx="164.2" cy="150.2" r="2.5" fill="#eef8df" fill-opacity="0.9"/>
<circle cx="170.4" cy="148.6" r="2.5" fill="#bfe3ef" fill-opacity="0.9"/>
<circle cx="157.3" cy="151.0" r="2.5" fill="#d4edf5" fill-opacity="0.9"/>
<circle cx="154.2" cy="170.9" r="2.5" fill="#ddf1f7" fill-opacity="0.9"/>
<circle cx="136.5" cy="184.4" r="2.5" fill="#feea9f" fill-opacity="0.9"/>
<circle cx="147.7" cy="171.4" r="2.5" fill="#f7fcce" fill-opacity="0.9"/>
<circle cx="110.6" cy="202.5" r="2.5" fill="#f6fbd0" fill-opacity="0.9"/>
<circle cx="138.8" cy="193.0" r="2.5" fill="#fff3ad" fill-opacity="0.9"/>
<circle cx="138.1" cy="182.1" r="2.5" fill="#daf0f6" fill-opacity="0.9"/>
<circle cx="121.3" cy="210.5" r="2.5" fill="#ffffbf" fill-opacity="0.9"/>
<circle cx="154.1" cy="159.0" r="2.5" fill="#a6d5e7" fill-opacity="0.9"/>
<circle cx="164.6" cy="158.4" r="2.5" fill="#fede8e" fill-opacity="0.9"/>
<circle cx="134.3" cy="172.5" r="2.5" fill="#a0d1e4" fill-opacity="0.9"/>
<circle cx="126.0" cy="202.8" r="2.5" fill="#fed485" fill-opacity="0.9"/>
<circle cx="155.7" cy="150.7" r="2.5" fill="#e5f5ef" fill-opacity="0.9"/>
<circle cx="170.9" cy="215.4" r="2.5" fill="#fdb76a" fill-opacity="0.9"/>
<circle cx="186.5" cy="228.9" r="2.5" fill="#fdb265" fill-opacity="0.9"/>
<circle cx="141.1" cy="244.8" r="2.5" fill="#c82127" fill-opacity="0.9"/>
<circle cx="165.8" cy="207.8" r="2.5" fill="#fdc678" fill-opacity="0.9"/>
<circle cx="185.9" cy="204.7" r="2.5" fill="#fca55d" fill-opacity="0.9"/>
<circle cx="139.0" cy="237.6" r="2.5" fill="#ae0926" fill-opacity="0.9"/>
<circle cx="152.6" cy="248.5" r="2.5" fill="#f88a50" fill-opacity="0.9"/>
<circle cx="161.2" cy="225.4" r="2.5" fill="#fdc778" fill-opacity="0.9"/>
<circle cx="163.2" cy="203.1" r="2.5" fill="#fdbc6f" fill-opacity="0.9"/>
<circle cx="167.1" cy="206.3" r="2.5" fill="#fba35c" fill-opacity="0.9"/>
<circle cx="151.9" cy="203.4" r="2.5" fill="#fdc072" fill-opacity="0.9"/>
<circle cx="142.4" cy="221.3" r="2.5" fill="#feca7b" fill-opacity="0.9"/>
<circle cx="177.8" cy="210.5" r="2.5" fill="#fdbc6e" fill-opacity="0.9"/>
<circle cx="164.6" cy="205.6" r="2.5" fill="#f88c51" fill-opacity="0.9"/>
<circle cx="161.0" cy="224.4" r="2.5" fill="#f98e52" fill-opacity="0.9"/>
<circle cx="157.1" cy="224.9" r="2.5" fill="#ac0726" fill-opacity="0.9"/>
<circle cx="160.1" cy="215.0" r="2.5" fill="#fee99e" fill-opacity="0.9"/>
<circle cx="163.3" cy="228.8" r="2.5" fill="#fdb96c" fill-opacity="0.9"/>
<circle cx="175.1" cy="205.4" r="2.5" fill="#feefa6" fill-opacity="0.9"/>
<circle cx="132.3" cy="231.1" r="2.5" fill="#fec97b" fill-opacity="0.9"/>
<circle cx="168.7" cy="203.6" r="2.5" fill="#fed788" fill-opacity="0.9"/>
<circle cx="172.4" cy="208.0" r="2.5" fill="#fee395" fill-opacity="0.9"/>
<circle cx="142.8" cy="254.2" r="2.5" fill="#ac0726" fill-opacity="0.9"/>
<circle cx="167.6" cy="225.7" r="2.5" fill="#fff0a8" fill-opacity="0.9"/>
<circle cx="167.3" cy="209.6" r="2.5" fill="#f16740" fill-opacity="0.9"/>
<circle cx="163.1" cy="207.0" r="2.5" fill="#fed182" fill-opacity="0.9"/>
<circle cx="165.3" cy="214.3" r="2.5" fill="#fdc375" fill-opacity="0.9"/>
<circle cx="175.0" cy="210.7" r="2.5" fill="#fecf80" fill-opacity="0.9"/>
<circle cx="164.0" cy="210.0" r="2.5" fill="#fdb86a" fill-opacity="0.9"/>
<circle cx="174.1" cy="218.9" r="2.5" fill="#d83228" fill-opacity="0.9"/>
<circle cx="162.8" cy="206.4" r="2.5" fill="#fed586" fill-opacity="0.9"/>
<circle cx="150.7" cy="223.6" r="2.5" fill="#fdc072" fill-opacity="0.9"/>
<circle cx="164.2" cy="217.6" r="2.5" fill="#c01a27" fill-opacity="0.9"/>
<circle cx="157.0" cy="220.8" r="2.5" fill="#fdbc6e" fill-opacity="0.9"/>
<circle cx="154.4" cy="220.5" r="2.5" fill="#fecc7d" fill-opacity="0.9"/>
<circle cx="171.7" cy="219.7" r="2.5" fill="#fed182" fill-opacity="0.9"/>
<circle cx="169.7" cy="204.2" r="2.5" fill="#f67e4b" fill-opacity="0.9"/>
<circle cx="156.6" cy="226.1" r="2.5" fill="#fdb96c" fill-opacity="0.9"/>
<circle cx="166.1" cy="248.6" r="2.5" fill="#fdb86b" fill-opacity="0.9"/>
<circle cx="162.1" cy="217.4" r="2.5" fill="#fff3ac" fill-opacity="0.9"/>
<circle cx="184.2" cy="231.4" r="2.5" fill="#fecf80" fill-opacity="0.9"/>
<circle cx="153.0" cy="215.1" r="2.5" fill="#f7854e" fill-opacity="0.9"/>
<circle cx="175.8" cy="203.6" r="2.5" fill="#fdb063" fill-opacity="0.9"/>
<circle cx="143.1" cy="220.9" r="2.5" fill="#fed989" fill-opacity="0.9"/>
<circle cx="182.4" cy="210.8" r="2.5" fill="#f7834d" fill-opacity="0.9"/>
<circle cx="174.4" cy="219.2" r="2.5" fill="#fdb76a" fill-opacity="0.9"/>
<circle cx="156.8" cy="218.3" r="2.5" fill="#fece7f" fill-opacity="0.9"/>
<circle cx="138.8" cy="240.9" r="2.5" fill="#fdb669" fill-opacity="0.9"/>
<circle cx="180.3" cy="222.6" r="2.5" fill="#d42d27" fill-opacity="0.9"/>
<circle cx="157.5" cy="218.6" r="2.5" fill="#f99455" fill-opacity="0.9"/>
<circle cx="140.3" cy="239.4" r="2.5" fill="#f88c51" fill-opacity="0.9"/>
<circle cx="163.1" cy="216.4" r="2.5" fill="#fdc577" fill-opacity="0.9"/>
<circle cx="176.4" cy="227.9" r="2.5" fill="#fca65d" fill-opacity="0.9"/>
<circle cx="137.3" cy="257.6" r="2.5" fill="#fca95f" fill-opacity="0.9"/>
<circle cx="189.2" cy="217.7" r="2.5" fill="#c51e27" fill-opacity="0.9"/>
<circle cx="166.1" cy="203.3" r="2.5" fill="#fecc7e" fill-opacity="0.9"/>
<circle cx="162.1" cy="219.1" r="2.5" fill="#fee79b" fill-opacity="0.9"/>
<circle cx="148.0" cy="231.0" r="2.5" fill="#ca2427" fill-opacity="0.9"/>
<circle cx="164.1" cy="212.4" r="2.5" fill="#fecf80" fill-opacity="0.9"/>
<circle cx="169.1" cy="203.4" r="2.5" fill="#fedb8b" fill-opacity="0.9"/>
<circle cx="158.7" cy="206.7" r="2.5" fill="#fdb96b" fill-opacity="0.9"/>
<circle cx="174.9" cy="208.4" r="2.5" fill="#fdb86b" fill-opacity="0.9"/>
<circle cx="173.5" cy="255.5" r="2.5" fill="#fece7f" fill-opacity="0.9"/>
<circle cx="158.8" cy="209.5" r="2.5" fill="#fece7f" fill-opacity="0.9"/>
<circle cx="152.1" cy="230.7" r="2.5" fill="#fee192" fill-opacity="0.9"/>
<circle cx="156.1" cy="227.5" r="2.5" fill="#fdc678" fill-opacity="0.9"/>
<circle cx="157.0" cy="245.9" r="2.5" fill="#fee496" fill-opacity="0.9"/>
<circle cx="160.7" cy="255.0" r="2.5" fill="#f99455" fill-opacity="0.9"/>
<circle cx="165.1" cy="229.2" r="2.5" fill="#ed5e3c" fill-opacity="0.9"/>
<circle cx="160.0" cy="242.7" r="2.5" fill="#fdac60" fill-opacity="0.9"/>
<circle cx="149.3" cy="242.3" r="2.5" fill="#fa9a58" fill-opacity="0.9"/>
<circle cx="173.2" cy="246.5" r="2.5" fill="#fdc173" fill-opacity="0.9"/>
<circle cx="160.7" cy="232.9" r="2.5" fill="#fee294" fill-opacity="0.9"/>
<circle cx="185.3" cy="238.5" r="2.5" fill="#f0643f" fill-opacity="0.9"/>
<circle cx="149.6" cy="214.1" r="2.5" fill="#fee090" fill-opacity="0.9"/>
<circle cx="147.8" cy="252.6" r="2.5" fill="#fdbd70" fill-opacity="0.9"/>
<circle cx="161.4" cy="254.0" r="2.5" fill="#fdb063" fill-opacity="0.9"/>
<circle cx="176.6" cy="250.3" r="2.5" fill="#fba05b" fill-opacity="0.9"/>
<circle cx="163.0" cy="250.0" r="2.5" fill="#f16640" fill-opacity="0.9"/>
<circle cx="173.9" cy="230.2" r="2.5" fill="#fecc7d" fill-opacity="0.9"/>
<circle cx="159.7" cy="227.3" r="2.5" fill="#f46c43" fill-opacity="0.9"/>
<circle cx="147.6" cy="222.0" r="2.5" fill="#fdb366" fill-opacity="0.9"/>
<circle cx="149.7" cy="236.6" r="2.5" fill="#fdbd70" fill-opacity="0.9"/>
<circle cx="167.5" cy="240.9" r="2.5" fill="#fdc678" fill-opacity="0.9"/>
<circle cx="155.4" cy="239.4" r="2.5" fill="#fdb568" fill-opacity="0.9"/>
<circle cx="157.0" cy="219.0" r="2.5" fill="#fa9957" fill-opacity="0.9"/>
<circle cx="158.7" cy="225.4" r="2.5" fill="#fdad61" fill-opacity="0.9"/>
<circle cx="151.1" cy="214.6" r="2.5" fill="#fca85e" fill-opacity="0.9"/>
<circle cx="153.7" cy="235.3" r="2.5" fill="#fdb668" fill-opacity="0.9"/>
<circle cx="170.8" cy="219.3" r="2.5" fill="#fdb366" fill-opacity="0.9"/>
<circle cx="161.5" cy="231.9" r="2.5" fill="#f88c51" fill-opacity="0.9"/>
<circle cx="180.5" cy="234.3" r="2.5" fill="#fed889" fill-opacity="0.9"/>
<circle cx="154.0" cy="233.6" r="2.5" fill="#fecc7d" fill-opacity="0.9"/>
<circle cx="162.3" cy="234.1" r="2.5" fill="#fba25b" fill-opacity="0.9"/>
<circle cx="183.3" cy="244.6" r="2.5" fill="#fdab60" fill-opacity="0.9"/>
<circle cx="164.4" cy="221.5" r="2.5" fill="#fec87a" fill-opacity="0.9"/>
<circle cx="162.5" cy="226.3" r="2.5" fill="#fdc072" fill-opacity="0.9"/>
<circle cx="190.5" cy="232.4" r="2.5" fill="#fba25c" fill-opacity="0.9"/>
<circle cx="157.7" cy="244.1" r="2.5" fill="#fba05b" fill-opacity="0.9"/>
<circle cx="149.4" cy="248.3" r="2.5" fill="#f7814c" fill-opacity="0.9"/>
<circle cx="135.9" cy="155.0" r="2.5" fill="#d7191c" fill-opacity="0.9"/>
<rect x="166.1" y="145.6" width="6.6" height="6.6" fill="#ff0000"/>
<rect x="153.1" y="178.7" width="6.6" height="6.6" fill="#ff0000"/>
<rect x="167.1" y="179.9" width="6.6" height="6.6" fill="#ff0000"/>
<rect x="171.2" y="176.1" width="6.6" height="6.6" fill="#ff0000"/>
<rect x="177.3" y="178.9" width="6.6" height="6.6" fill="#ff0000"/>
<rect x="169.9" y="187.3" width="6.6" height="6.6" fill="#ff0000"/>
<rect x="161.0" y="191.5" width="6.6" height="6.6" fill="#ff0000"/>
<rect x="175.1" y="199.0" width="6.6" height="6.6" fill="#ff0000"/>
<rect x="181.7" y="207.0" width="6.6" height="6.6" fill="#ff0000"/>
<rect x="168.4" y="206.0" width="6.6" height="6.6" fill="#ff0000"/>
<rect x="161.5" y="212.1" width="6.6" height="6.6" fill="#ff0000"/>
<rect x="147.1" y="227.5" width="6.6" height="6.6" fill="#ff0000"/>
<path d="M171.2 117.8L177.8 117.8L174.5 123.8Z" fill="#000"/>
<path d="M166.7 124.6L173.2 124.6L169.9 130.7Z" fill="#000"/>
<path d="M170.4 135.7L176.9 135.7L173.7 141.8Z" fill="#000"/>
<path d="M153.8 151.0L160.3 151.0L157.1 157.1Z" fill="#000"/>
<path d="M113.2 155.7L119.8 155.7L116.5 161.8Z" fill="#000"/>
<path d="M153.1 149.8L159.6 149.8L156.3 155.8Z" fill="#000"/>
<path d="M160.2 157.4L166.8 157.4L163.5 163.4Z" fill="#000"/>
<path d="M150.4 164.3L156.9 164.3L153.7 170.3Z" fill="#000"/>
<path d="M128.8 169.0L135.3 169.0L132.1 175.1Z" fill="#000"/>
<path d="M157.8 173.1L164.3 173.1L161.1 179.2Z" fill="#000"/>
<path d="M122.3 202.6L128.8 202.6L125.6 208.7Z" fill="#000"/>
<path d="M145.3 154.0L151.8 154.0L148.6 160.1Z" fill="#000"/>
<path d="M183.2 152.4L189.8 152.4L186.5 158.4Z" fill="#000"/>
<path d="M170.2 136.1L176.7 136.1L173.4 142.2Z" fill="#000"/>
<path d="M150.3 136.7L156.8 136.7L153.6 142.8Z" fill="#000"/>
<path d="M162.4 105.5L168.9 105.5L165.7 111.5Z" fill="#0000ff"/>
<path d="M155.9 120.3L162.4 120.3L159.2 126.3Z" fill="#0000ff"/>
<path d="M156.4 124.3L162.9 124.3L159.7 130.3Z" fill="#0000ff"/>
<path d="M144.2 128.0L150.7 128.0L147.4 134.1Z" fill="#0000ff"/>
<path d="M142.4 133.6L148.9 133.6L145.7 139.7Z" fill="#0000ff"/>
<path d="M137.7 136.2L144.2 136.2L140.9 142.2Z" fill="#0000ff"/>
<path d="M122.3 141.7L128.8 141.7L125.6 147.8Z" fill="#0000ff"/>
<path d="M151.3 146.8L157.8 146.8L154.6 152.8Z" fill="#0000ff"/>
<path d="M122.3 169.4L128.8 169.4L125.6 175.4Z" fill="#0000ff"/>
<path d="M106.2 177.6L112.7 177.6L109.4 183.7Z" fill="#0000ff"/>
<path d="M104.5 182.2L111.0 182.2L107.7 188.2Z" fill="#0000ff"/>
<path d="M114.7 186.4L121.2 186.4L117.9 192.4Z" fill="#0000ff"/>
<path d="M130.1 187.3L136.6 187.3L133.3 193.3Z" fill="#0000ff"/>
<path d="M151.7 189.8L158.2 189.8L154.9 195.8Z" fill="#0000ff"/>
<path d="M152.2 148.1L158.7 148.1L155.4 154.2Z" fill="#0000ff"/>
<path d="M73.7 170.7L80.2 170.7L76.9 176.8Z" fill="#0000ff"/>
<path d="M78.0 182.5L84.5 182.5L81.2 188.6Z" fill="#0000ff"/>
<path d="M121.8 141.8L128.3 141.8L125.1 147.8Z" fill="#0000ff"/>
<path d="M169.9 112.2L174.5 116.8L169.9 121.4L165.3 116.8Z" fill="#ffb6c1" stroke="#333" stroke-width="0.35"/>
<path d="M152.5 119.1L157.1 123.7L152.5 128.3L147.9 123.7Z" fill="#ffb6c1" stroke="#333" stroke-width="0.35"/>
<path d="M166.2 128.3L170.8 132.9L166.2 137.5L161.6 132.9Z" fill="#ffb6c1" stroke="#333" stroke-width="0.35"/>
<path d="M156.3 132.2L160.9 136.8L156.3 141.4L151.7 136.8Z" fill="#ffb6c1" stroke="#333" stroke-width="0.35"/>
<path d="M158.8 134.4L163.4 139.0L158.8 143.6L154.2 139.0Z" fill="#ffb6c1" stroke="#333" stroke-width="0.35"/>
<path d="M164.5 133.9L169.1 138.5L164.5 143.1L159.9 138.5Z" fill="#ffb6c1" stroke="#333" stroke-width="0.35"/>
<path d="M160.6 140.7L165.2 145.3L160.6 149.9L156.0 145.3Z" fill="#ffb6c1" stroke="#333" stroke-width="0.35"/>
<path d="M140.1 147.5L144.7 152.1L140.1 156.7L135.5 152.1Z" fill="#ffb6c1" stroke="#333" stroke-width="0.35"/>
<path d="M139.6 148.0L144.2 152.6L139.6 157.2L135.0 152.6Z" fill="#ffb6c1" stroke="#333" stroke-width="0.35"/>
<path d="M146.1 154.8L150.7 159.4L146.1 164.0L141.5 159.4Z" fill="#ffb6c1" stroke="#333" stroke-width="0.35"/>
<path d="M154.6 153.6L159.2 158.2L154.6 162.8L150.0 158.2Z" fill="#ffb6c1" stroke="#333" stroke-width="0.35"/>
<path d="M145.2 160.8L149.8 165.4L145.2 170.0L140.6 165.4Z" fill="#ffb6c1" stroke="#333" stroke-width="0.35"/>
<path d="M118.8 162.5L123.4 167.1L118.8 171.7L114.2 167.1Z" fill="#ffb6c1" stroke="#333" stroke-width="0.35"/>
<path d="M99.3 176.5L103.8 181.0L99.3 185.5L94.8 181.0Z" fill="#00ff00" stroke="#22c022" stroke-width="0.35"/>
<path d="M154.2 137.9L158.7 142.4L154.2 146.9L149.7 142.4Z" fill="#00ff00" stroke="#22c022" stroke-width="0.35"/>
<path d="M113.2 237.9L117.7 242.4L113.2 246.9L108.7 242.4Z" fill="#00ff00" stroke="#22c022" stroke-width="0.35"/>
<path d="M141.1 267.0L145.6 271.5L141.1 276.0L136.6 271.5Z" fill="#00ff00" stroke="#22c022" stroke-width="0.35"/></g>
<defs><linearGradient id="cb" x1="0" y1="1" x2="0" y2="0">
<stop offset="0%" stop-color="#a50026"/>
<stop offset="10%" stop-color="#d73027"/>
<stop offset="20%" stop-color="#f46d43"/>
<stop offset="30%" stop-color="#fdae61"/>
<stop offset="40%" stop-color="#fee090"/>
<stop offset="50%" stop-color="#ffffbf"/>
<stop offset="60%" stop-color="#e0f3f8"/>
<stop offset="70%" stop-color="#abd9e9"/>
<stop offset="80%" stop-color="#74add1"/>
<stop offset="90%" stop-color="#4575b4"/>
<stop offset="100%" stop-color="#313695"/>
</linearGradient></defs>
<rect x="205.40" y="189.60" width="5.30" height="119.90" fill="url(#cb)" />
<line x1="205.40" y1="206.30" x2="210.70" y2="206.30" stroke="#222" stroke-width="0.8" />
<text x="220.70" y="203.40" font-size="8.4" text-anchor="end" transform="rotate(-90 220.70 203.40)" >2</text>
<line x1="205.40" y1="239.70" x2="210.70" y2="239.70" stroke="#222" stroke-width="0.8" />
<text x="220.70" y="236.80" font-size="8.4" text-anchor="end" transform="rotate(-90 220.70 236.80)" >1</text>
<line x1="205.40" y1="273.10" x2="210.70" y2="273.10" stroke="#222" stroke-width="0.8" />
<text x="220.70" y="270.20" font-size="8.4" text-anchor="end" transform="rotate(-90 220.70 270.20)" >0</text>
<line x1="205.40" y1="306.50" x2="210.70" y2="306.50" stroke="#222" stroke-width="0.8" />
<text x="220.70" y="303.60" font-size="8.4" text-anchor="end" transform="rotate(-90 220.70 303.60)" >−1</text>
<text x="229.30" y="250.20" font-size="8.6" text-anchor="middle" transform="rotate(-90 229.30 250.20)" >log |EW Hα|</text>
<line x1="29.80" y1="0.60" x2="249.60" y2="0.60" stroke="#6f6f6f" stroke-width="1.0" />
<line x1="29.80" y1="0.60" x2="29.80" y2="80.30" stroke="#6f6f6f" stroke-width="1.0" />
<line x1="249.60" y1="0.60" x2="249.60" y2="80.30" stroke="#6f6f6f" stroke-width="1.0" />
<line x1="249.60" y1="80.30" x2="322.50" y2="80.30" stroke="#6f6f6f" stroke-width="1.0" />
<line x1="322.50" y1="80.30" x2="322.50" y2="322.00" stroke="#6f6f6f" stroke-width="1.0" />
<line x1="249.60" y1="322.00" x2="322.50" y2="322.00" stroke="#6f6f6f" stroke-width="1.0" />
<rect x="358.4" y="144.3" width="114.00" height="108.30" fill="none" stroke="#6f6f6f" stroke-width="1"/>
<rect x="29.8" y="80.3" width="219.80" height="241.70" fill="none" stroke="#111" stroke-width="1.1"/>
<line x1="33.37" y1="322.00" x2="33.37" y2="318.50" stroke="#111" stroke-width="1.1" />
<line x1="33.37" y1="76.80" x2="33.37" y2="83.80" stroke="#111" stroke-width="1.1" />
<line x1="33.37" y1="0.60" x2="33.37" y2="3.23" stroke="#333" stroke-width="0.8" />
<line x1="40.81" y1="322.00" x2="40.81" y2="318.50" stroke="#111" stroke-width="1.1" />
<line x1="40.81" y1="76.80" x2="40.81" y2="83.80" stroke="#111" stroke-width="1.1" />
<line x1="40.81" y1="0.60" x2="40.81" y2="3.23" stroke="#333" stroke-width="0.8" />
<line x1="48.25" y1="322.00" x2="48.25" y2="315.40" stroke="#111" stroke-width="1.1" />
<line x1="48.25" y1="73.70" x2="48.25" y2="86.90" stroke="#111" stroke-width="1.1" />
<line x1="48.25" y1="0.60" x2="48.25" y2="5.55" stroke="#333" stroke-width="0.8" />
<line x1="55.69" y1="322.00" x2="55.69" y2="318.50" stroke="#111" stroke-width="1.1" />
<line x1="55.69" y1="76.80" x2="55.69" y2="83.80" stroke="#111" stroke-width="1.1" />
<line x1="55.69" y1="0.60" x2="55.69" y2="3.23" stroke="#333" stroke-width="0.8" />
<line x1="63.13" y1="322.00" x2="63.13" y2="318.50" stroke="#111" stroke-width="1.1" />
<line x1="63.13" y1="76.80" x2="63.13" y2="83.80" stroke="#111" stroke-width="1.1" />
<line x1="63.13" y1="0.60" x2="63.13" y2="3.23" stroke="#333" stroke-width="0.8" />
<line x1="70.57" y1="322.00" x2="70.57" y2="318.50" stroke="#111" stroke-width="1.1" />
<line x1="70.57" y1="76.80" x2="70.57" y2="83.80" stroke="#111" stroke-width="1.1" />
<line x1="70.57" y1="0.60" x2="70.57" y2="3.23" stroke="#333" stroke-width="0.8" />
<line x1="78.01" y1="322.00" x2="78.01" y2="318.50" stroke="#111" stroke-width="1.1" />
<line x1="78.01" y1="76.80" x2="78.01" y2="83.80" stroke="#111" stroke-width="1.1" />
<line x1="78.01" y1="0.60" x2="78.01" y2="3.23" stroke="#333" stroke-width="0.8" />
<line x1="85.45" y1="322.00" x2="85.45" y2="315.40" stroke="#111" stroke-width="1.1" />
<line x1="85.45" y1="73.70" x2="85.45" y2="86.90" stroke="#111" stroke-width="1.1" />
<line x1="85.45" y1="0.60" x2="85.45" y2="5.55" stroke="#333" stroke-width="0.8" />
<line x1="92.89" y1="322.00" x2="92.89" y2="318.50" stroke="#111" stroke-width="1.1" />
<line x1="92.89" y1="76.80" x2="92.89" y2="83.80" stroke="#111" stroke-width="1.1" />
<line x1="92.89" y1="0.60" x2="92.89" y2="3.23" stroke="#333" stroke-width="0.8" />
<line x1="100.33" y1="322.00" x2="100.33" y2="318.50" stroke="#111" stroke-width="1.1" />
<line x1="100.33" y1="76.80" x2="100.33" y2="83.80" stroke="#111" stroke-width="1.1" />
<line x1="100.33" y1="0.60" x2="100.33" y2="3.23" stroke="#333" stroke-width="0.8" />
<line x1="107.77" y1="322.00" x2="107.77" y2="318.50" stroke="#111" stroke-width="1.1" />
<line x1="107.77" y1="76.80" x2="107.77" y2="83.80" stroke="#111" stroke-width="1.1" />
<line x1="107.77" y1="0.60" x2="107.77" y2="3.23" stroke="#333" stroke-width="0.8" />
<line x1="115.21" y1="322.00" x2="115.21" y2="318.50" stroke="#111" stroke-width="1.1" />
<line x1="115.21" y1="76.80" x2="115.21" y2="83.80" stroke="#111" stroke-width="1.1" />
<line x1="115.21" y1="0.60" x2="115.21" y2="3.23" stroke="#333" stroke-width="0.8" />
<line x1="122.65" y1="322.00" x2="122.65" y2="315.40" stroke="#111" stroke-width="1.1" />
<line x1="122.65" y1="73.70" x2="122.65" y2="86.90" stroke="#111" stroke-width="1.1" />
<line x1="122.65" y1="0.60" x2="122.65" y2="5.55" stroke="#333" stroke-width="0.8" />
<line x1="130.09" y1="322.00" x2="130.09" y2="318.50" stroke="#111" stroke-width="1.1" />
<line x1="130.09" y1="76.80" x2="130.09" y2="83.80" stroke="#111" stroke-width="1.1" />
<line x1="130.09" y1="0.60" x2="130.09" y2="3.23" stroke="#333" stroke-width="0.8" />
<line x1="137.53" y1="322.00" x2="137.53" y2="318.50" stroke="#111" stroke-width="1.1" />
<line x1="137.53" y1="76.80" x2="137.53" y2="83.80" stroke="#111" stroke-width="1.1" />
<line x1="137.53" y1="0.60" x2="137.53" y2="3.23" stroke="#333" stroke-width="0.8" />
<line x1="144.97" y1="322.00" x2="144.97" y2="318.50" stroke="#111" stroke-width="1.1" />
<line x1="144.97" y1="76.80" x2="144.97" y2="83.80" stroke="#111" stroke-width="1.1" />
<line x1="144.97" y1="0.60" x2="144.97" y2="3.23" stroke="#333" stroke-width="0.8" />
<line x1="152.41" y1="322.00" x2="152.41" y2="318.50" stroke="#111" stroke-width="1.1" />
<line x1="152.41" y1="76.80" x2="152.41" y2="83.80" stroke="#111" stroke-width="1.1" />
<line x1="152.41" y1="0.60" x2="152.41" y2="3.23" stroke="#333" stroke-width="0.8" />
<line x1="159.85" y1="322.00" x2="159.85" y2="315.40" stroke="#111" stroke-width="1.1" />
<line x1="159.85" y1="73.70" x2="159.85" y2="86.90" stroke="#111" stroke-width="1.1" />
<line x1="159.85" y1="0.60" x2="159.85" y2="5.55" stroke="#333" stroke-width="0.8" />
<line x1="167.29" y1="322.00" x2="167.29" y2="318.50" stroke="#111" stroke-width="1.1" />
<line x1="167.29" y1="76.80" x2="167.29" y2="83.80" stroke="#111" stroke-width="1.1" />
<line x1="167.29" y1="0.60" x2="167.29" y2="3.23" stroke="#333" stroke-width="0.8" />
<line x1="174.73" y1="322.00" x2="174.73" y2="318.50" stroke="#111" stroke-width="1.1" />
<line x1="174.73" y1="76.80" x2="174.73" y2="83.80" stroke="#111" stroke-width="1.1" />
<line x1="174.73" y1="0.60" x2="174.73" y2="3.23" stroke="#333" stroke-width="0.8" />
<line x1="182.17" y1="322.00" x2="182.17" y2="318.50" stroke="#111" stroke-width="1.1" />
<line x1="182.17" y1="76.80" x2="182.17" y2="83.80" stroke="#111" stroke-width="1.1" />
<line x1="182.17" y1="0.60" x2="182.17" y2="3.23" stroke="#333" stroke-width="0.8" />
<line x1="189.61" y1="322.00" x2="189.61" y2="318.50" stroke="#111" stroke-width="1.1" />
<line x1="189.61" y1="76.80" x2="189.61" y2="83.80" stroke="#111" stroke-width="1.1" />
<line x1="189.61" y1="0.60" x2="189.61" y2="3.23" stroke="#333" stroke-width="0.8" />
<line x1="197.05" y1="322.00" x2="197.05" y2="315.40" stroke="#111" stroke-width="1.1" />
<line x1="197.05" y1="73.70" x2="197.05" y2="86.90" stroke="#111" stroke-width="1.1" />
<line x1="197.05" y1="0.60" x2="197.05" y2="5.55" stroke="#333" stroke-width="0.8" />
<line x1="204.49" y1="322.00" x2="204.49" y2="318.50" stroke="#111" stroke-width="1.1" />
<line x1="204.49" y1="76.80" x2="204.49" y2="83.80" stroke="#111" stroke-width="1.1" />
<line x1="204.49" y1="0.60" x2="204.49" y2="3.23" stroke="#333" stroke-width="0.8" />
<line x1="211.93" y1="322.00" x2="211.93" y2="318.50" stroke="#111" stroke-width="1.1" />
<line x1="211.93" y1="76.80" x2="211.93" y2="83.80" stroke="#111" stroke-width="1.1" />
<line x1="211.93" y1="0.60" x2="211.93" y2="3.23" stroke="#333" stroke-width="0.8" />
<line x1="219.37" y1="322.00" x2="219.37" y2="318.50" stroke="#111" stroke-width="1.1" />
<line x1="219.37" y1="76.80" x2="219.37" y2="83.80" stroke="#111" stroke-width="1.1" />
<line x1="219.37" y1="0.60" x2="219.37" y2="3.23" stroke="#333" stroke-width="0.8" />
<line x1="226.81" y1="322.00" x2="226.81" y2="318.50" stroke="#111" stroke-width="1.1" />
<line x1="226.81" y1="76.80" x2="226.81" y2="83.80" stroke="#111" stroke-width="1.1" />
<line x1="226.81" y1="0.60" x2="226.81" y2="3.23" stroke="#333" stroke-width="0.8" />
<line x1="234.25" y1="322.00" x2="234.25" y2="315.40" stroke="#111" stroke-width="1.1" />
<line x1="234.25" y1="73.70" x2="234.25" y2="86.90" stroke="#111" stroke-width="1.1" />
<line x1="234.25" y1="0.60" x2="234.25" y2="5.55" stroke="#333" stroke-width="0.8" />
<line x1="241.69" y1="322.00" x2="241.69" y2="318.50" stroke="#111" stroke-width="1.1" />
<line x1="241.69" y1="76.80" x2="241.69" y2="83.80" stroke="#111" stroke-width="1.1" />
<line x1="241.69" y1="0.60" x2="241.69" y2="3.23" stroke="#333" stroke-width="0.8" />
<line x1="29.80" y1="318.26" x2="33.30" y2="318.26" stroke="#111" stroke-width="1.1" />
<line x1="246.10" y1="318.26" x2="253.10" y2="318.26" stroke="#111" stroke-width="1.1" />
<line x1="319.88" y1="318.26" x2="322.50" y2="318.26" stroke="#333" stroke-width="0.8" />
<line x1="29.80" y1="311.38" x2="33.30" y2="311.38" stroke="#111" stroke-width="1.1" />
<line x1="246.10" y1="311.38" x2="253.10" y2="311.38" stroke="#111" stroke-width="1.1" />
<line x1="319.88" y1="311.38" x2="322.50" y2="311.38" stroke="#333" stroke-width="0.8" />
<line x1="29.80" y1="304.50" x2="36.40" y2="304.50" stroke="#111" stroke-width="1.1" />
<line x1="243.00" y1="304.50" x2="256.20" y2="304.50" stroke="#111" stroke-width="1.1" />
<line x1="317.55" y1="304.50" x2="322.50" y2="304.50" stroke="#333" stroke-width="0.8" />
<line x1="29.80" y1="297.62" x2="33.30" y2="297.62" stroke="#111" stroke-width="1.1" />
<line x1="246.10" y1="297.62" x2="253.10" y2="297.62" stroke="#111" stroke-width="1.1" />
<line x1="319.88" y1="297.62" x2="322.50" y2="297.62" stroke="#333" stroke-width="0.8" />
<line x1="29.80" y1="290.74" x2="33.30" y2="290.74" stroke="#111" stroke-width="1.1" />
<line x1="246.10" y1="290.74" x2="253.10" y2="290.74" stroke="#111" stroke-width="1.1" />
<line x1="319.88" y1="290.74" x2="322.50" y2="290.74" stroke="#333" stroke-width="0.8" />
<line x1="29.80" y1="283.86" x2="33.30" y2="283.86" stroke="#111" stroke-width="1.1" />
<line x1="246.10" y1="283.86" x2="253.10" y2="283.86" stroke="#111" stroke-width="1.1" />
<line x1="319.88" y1="283.86" x2="322.50" y2="283.86" stroke="#333" stroke-width="0.8" />
<line x1="29.80" y1="276.98" x2="33.30" y2="276.98" stroke="#111" stroke-width="1.1" />
<line x1="246.10" y1="276.98" x2="253.10" y2="276.98" stroke="#111" stroke-width="1.1" />
<line x1="319.88" y1="276.98" x2="322.50" y2="276.98" stroke="#333" stroke-width="0.8" />
<line x1="29.80" y1="270.10" x2="36.40" y2="270.10" stroke="#111" stroke-width="1.1" />
<line x1="243.00" y1="270.10" x2="256.20" y2="270.10" stroke="#111" stroke-width="1.1" />
<line x1="317.55" y1="270.10" x2="322.50" y2="270.10" stroke="#333" stroke-width="0.8" />
<line x1="29.80" y1="263.22" x2="33.30" y2="263.22" stroke="#111" stroke-width="1.1" />
<line x1="246.10" y1="263.22" x2="253.10" y2="263.22" stroke="#111" stroke-width="1.1" />
<line x1="319.88" y1="263.22" x2="322.50" y2="263.22" stroke="#333" stroke-width="0.8" />
<line x1="29.80" y1="256.34" x2="33.30" y2="256.34" stroke="#111" stroke-width="1.1" />
<line x1="246.10" y1="256.34" x2="253.10" y2="256.34" stroke="#111" stroke-width="1.1" />
<line x1="319.88" y1="256.34" x2="322.50" y2="256.34" stroke="#333" stroke-width="0.8" />
<line x1="29.80" y1="249.46" x2="33.30" y2="249.46" stroke="#111" stroke-width="1.1" />
<line x1="246.10" y1="249.46" x2="253.10" y2="249.46" stroke="#111" stroke-width="1.1" />
<line x1="319.88" y1="249.46" x2="322.50" y2="249.46" stroke="#333" stroke-width="0.8" />
<line x1="29.80" y1="242.58" x2="33.30" y2="242.58" stroke="#111" stroke-width="1.1" />
<line x1="246.10" y1="242.58" x2="253.10" y2="242.58" stroke="#111" stroke-width="1.1" />
<line x1="319.88" y1="242.58" x2="322.50" y2="242.58" stroke="#333" stroke-width="0.8" />
<line x1="29.80" y1="235.70" x2="36.40" y2="235.70" stroke="#111" stroke-width="1.1" />
<line x1="243.00" y1="235.70" x2="256.20" y2="235.70" stroke="#111" stroke-width="1.1" />
<line x1="317.55" y1="235.70" x2="322.50" y2="235.70" stroke="#333" stroke-width="0.8" />
<line x1="29.80" y1="228.82" x2="33.30" y2="228.82" stroke="#111" stroke-width="1.1" />
<line x1="246.10" y1="228.82" x2="253.10" y2="228.82" stroke="#111" stroke-width="1.1" />
<line x1="319.88" y1="228.82" x2="322.50" y2="228.82" stroke="#333" stroke-width="0.8" />
<line x1="29.80" y1="221.94" x2="33.30" y2="221.94" stroke="#111" stroke-width="1.1" />
<line x1="246.10" y1="221.94" x2="253.10" y2="221.94" stroke="#111" stroke-width="1.1" />
<line x1="319.88" y1="221.94" x2="322.50" y2="221.94" stroke="#333" stroke-width="0.8" />
<line x1="29.80" y1="215.06" x2="33.30" y2="215.06" stroke="#111" stroke-width="1.1" />
<line x1="246.10" y1="215.06" x2="253.10" y2="215.06" stroke="#111" stroke-width="1.1" />
<line x1="319.88" y1="215.06" x2="322.50" y2="215.06" stroke="#333" stroke-width="0.8" />
<line x1="29.80" y1="208.18" x2="33.30" y2="208.18" stroke="#111" stroke-width="1.1" />
<line x1="246.10" y1="208.18" x2="253.10" y2="208.18" stroke="#111" stroke-width="1.1" />
<line x1="319.88" y1="208.18" x2="322.50" y2="208.18" stroke="#333" stroke-width="0.8" />
<line x1="29.80" y1="201.30" x2="36.40" y2="201.30" stroke="#111" stroke-width="1.1" />
<line x1="243.00" y1="201.30" x2="256.20" y2="201.30" stroke="#111" stroke-width="1.1" />
<line x1="317.55" y1="201.30" x2="322.50" y2="201.30" stroke="#333" stroke-width="0.8" />
<line x1="29.80" y1="194.42" x2="33.30" y2="194.42" stroke="#111" stroke-width="1.1" />
<line x1="246.10" y1="194.42" x2="253.10" y2="194.42" stroke="#111" stroke-width="1.1" />
<line x1="319.88" y1="194.42" x2="322.50" y2="194.42" stroke="#333" stroke-width="0.8" />
<line x1="29.80" y1="187.54" x2="33.30" y2="187.54" stroke="#111" stroke-width="1.1" />
<line x1="246.10" y1="187.54" x2="253.10" y2="187.54" stroke="#111" stroke-width="1.1" />
<line x1="319.88" y1="187.54" x2="322.50" y2="187.54" stroke="#333" stroke-width="0.8" />
<line x1="29.80" y1="180.66" x2="33.30" y2="180.66" stroke="#111" stroke-width="1.1" />
<line x1="246.10" y1="180.66" x2="253.10" y2="180.66" stroke="#111" stroke-width="1.1" />
<line x1="319.88" y1="180.66" x2="322.50" y2="180.66" stroke="#333" stroke-width="0.8" />
<line x1="29.80" y1="173.78" x2="33.30" y2="173.78" stroke="#111" stroke-width="1.1" />
<line x1="246.10" y1="173.78" x2="253.10" y2="173.78" stroke="#111" stroke-width="1.1" />
<line x1="319.88" y1="173.78" x2="322.50" y2="173.78" stroke="#333" stroke-width="0.8" />
<line x1="29.80" y1="166.90" x2="36.40" y2="166.90" stroke="#111" stroke-width="1.1" />
<line x1="243.00" y1="166.90" x2="256.20" y2="166.90" stroke="#111" stroke-width="1.1" />
<line x1="317.55" y1="166.90" x2="322.50" y2="166.90" stroke="#333" stroke-width="0.8" />
<line x1="29.80" y1="160.02" x2="33.30" y2="160.02" stroke="#111" stroke-width="1.1" />
<line x1="246.10" y1="160.02" x2="253.10" y2="160.02" stroke="#111" stroke-width="1.1" />
<line x1="319.88" y1="160.02" x2="322.50" y2="160.02" stroke="#333" stroke-width="0.8" />
<line x1="29.80" y1="153.14" x2="33.30" y2="153.14" stroke="#111" stroke-width="1.1" />
<line x1="246.10" y1="153.14" x2="253.10" y2="153.14" stroke="#111" stroke-width="1.1" />
<line x1="319.88" y1="153.14" x2="322.50" y2="153.14" stroke="#333" stroke-width="0.8" />
<line x1="29.80" y1="146.26" x2="33.30" y2="146.26" stroke="#111" stroke-width="1.1" />
<line x1="246.10" y1="146.26" x2="253.10" y2="146.26" stroke="#111" stroke-width="1.1" />
<line x1="319.88" y1="146.26" x2="322.50" y2="146.26" stroke="#333" stroke-width="0.8" />
<line x1="29.80" y1="139.38" x2="33.30" y2="139.38" stroke="#111" stroke-width="1.1" />
<line x1="246.10" y1="139.38" x2="253.10" y2="139.38" stroke="#111" stroke-width="1.1" />
<line x1="319.88" y1="139.38" x2="322.50" y2="139.38" stroke="#333" stroke-width="0.8" />
<line x1="29.80" y1="132.50" x2="36.40" y2="132.50" stroke="#111" stroke-width="1.1" />
<line x1="243.00" y1="132.50" x2="256.20" y2="132.50" stroke="#111" stroke-width="1.1" />
<line x1="317.55" y1="132.50" x2="322.50" y2="132.50" stroke="#333" stroke-width="0.8" />
<line x1="29.80" y1="125.62" x2="33.30" y2="125.62" stroke="#111" stroke-width="1.1" />
<line x1="246.10" y1="125.62" x2="253.10" y2="125.62" stroke="#111" stroke-width="1.1" />
<line x1="319.88" y1="125.62" x2="322.50" y2="125.62" stroke="#333" stroke-width="0.8" />
<line x1="29.80" y1="118.74" x2="33.30" y2="118.74" stroke="#111" stroke-width="1.1" />
<line x1="246.10" y1="118.74" x2="253.10" y2="118.74" stroke="#111" stroke-width="1.1" />
<line x1="319.88" y1="118.74" x2="322.50" y2="118.74" stroke="#333" stroke-width="0.8" />
<line x1="29.80" y1="111.86" x2="33.30" y2="111.86" stroke="#111" stroke-width="1.1" />
<line x1="246.10" y1="111.86" x2="253.10" y2="111.86" stroke="#111" stroke-width="1.1" />
<line x1="319.88" y1="111.86" x2="322.50" y2="111.86" stroke="#333" stroke-width="0.8" />
<line x1="29.80" y1="104.98" x2="33.30" y2="104.98" stroke="#111" stroke-width="1.1" />
<line x1="246.10" y1="104.98" x2="253.10" y2="104.98" stroke="#111" stroke-width="1.1" />
<line x1="319.88" y1="104.98" x2="322.50" y2="104.98" stroke="#333" stroke-width="0.8" />
<line x1="29.80" y1="98.10" x2="36.40" y2="98.10" stroke="#111" stroke-width="1.1" />
<line x1="243.00" y1="98.10" x2="256.20" y2="98.10" stroke="#111" stroke-width="1.1" />
<line x1="317.55" y1="98.10" x2="322.50" y2="98.10" stroke="#333" stroke-width="0.8" />
<line x1="29.80" y1="91.22" x2="33.30" y2="91.22" stroke="#111" stroke-width="1.1" />
<line x1="246.10" y1="91.22" x2="253.10" y2="91.22" stroke="#111" stroke-width="1.1" />
<line x1="319.88" y1="91.22" x2="322.50" y2="91.22" stroke="#333" stroke-width="0.8" />
<line x1="29.80" y1="84.34" x2="33.30" y2="84.34" stroke="#111" stroke-width="1.1" />
<line x1="246.10" y1="84.34" x2="253.10" y2="84.34" stroke="#111" stroke-width="1.1" />
<line x1="319.88" y1="84.34" x2="322.50" y2="84.34" stroke="#333" stroke-width="0.8" />
<line x1="29.80" y1="34.30" x2="34.80" y2="34.30" stroke="#333" stroke-width="0.8" />
<line x1="244.60" y1="34.30" x2="249.60" y2="34.30" stroke="#333" stroke-width="0.8" />
<line x1="286.10" y1="80.30" x2="286.10" y2="85.30" stroke="#333" stroke-width="0.8" />
<line x1="286.10" y1="322.00" x2="286.10" y2="317.00" stroke="#333" stroke-width="0.8" />
<line x1="363.40" y1="252.60" x2="363.40" y2="248.00" stroke="#333" stroke-width="0.8" />
<line x1="363.40" y1="144.30" x2="363.40" y2="148.90" stroke="#333" stroke-width="0.8" />
<line x1="415.50" y1="252.60" x2="415.50" y2="248.00" stroke="#333" stroke-width="0.8" />
<line x1="415.50" y1="144.30" x2="415.50" y2="148.90" stroke="#333" stroke-width="0.8" />
<line x1="467.60" y1="252.60" x2="467.60" y2="248.00" stroke="#333" stroke-width="0.8" />
<line x1="467.60" y1="144.30" x2="467.60" y2="148.90" stroke="#333" stroke-width="0.8" />
<line x1="358.40" y1="225.53" x2="360.90" y2="225.53" stroke="#333" stroke-width="0.8" />
<line x1="469.90" y1="225.53" x2="472.40" y2="225.53" stroke="#333" stroke-width="0.8" />
<line x1="358.40" y1="198.45" x2="363.00" y2="198.45" stroke="#333" stroke-width="0.8" />
<line x1="467.80" y1="198.45" x2="472.40" y2="198.45" stroke="#333" stroke-width="0.8" />
<line x1="358.40" y1="171.38" x2="360.90" y2="171.38" stroke="#333" stroke-width="0.8" />
<line x1="469.90" y1="171.38" x2="472.40" y2="171.38" stroke="#333" stroke-width="0.8" />
<text x="48.25" y="333.70" font-size="10.1" text-anchor="middle" >8</text>
<text x="85.45" y="333.70" font-size="10.1" text-anchor="middle" >9</text>
<text x="122.65" y="333.70" font-size="10.1" text-anchor="middle" >10</text>
<text x="159.85" y="333.70" font-size="10.1" text-anchor="middle" >11</text>
<text x="197.05" y="333.70" font-size="10.1" text-anchor="middle" >12</text>
<text x="234.25" y="333.70" font-size="10.1" text-anchor="middle" >13</text>
<text x="139.5" y="347.5" font-size="10.5" text-anchor="middle">log M<tspan font-size="8.2" dy="2.2">★</tspan><tspan dy="-2.2"> (M</tspan><tspan font-size="9" dy="2.4">⊙</tspan><tspan dy="-2.4">)</tspan></text>
<text x="24.30" y="301.20" font-size="10.2" text-anchor="end" transform="rotate(-90 24.30 301.20)" >−4</text>
<text x="24.30" y="266.80" font-size="10.2" text-anchor="end" transform="rotate(-90 24.30 266.80)" >−3</text>
<text x="24.30" y="232.40" font-size="10.2" text-anchor="end" transform="rotate(-90 24.30 232.40)" >−2</text>
<text x="24.30" y="198.00" font-size="10.2" text-anchor="end" transform="rotate(-90 24.30 198.00)" >−1</text>
<text x="24.30" y="163.60" font-size="10.2" text-anchor="end" transform="rotate(-90 24.30 163.60)" >0</text>
<text x="24.30" y="129.20" font-size="10.2" text-anchor="end" transform="rotate(-90 24.30 129.20)" >1</text>
<text x="24.30" y="94.80" font-size="10.2" text-anchor="end" transform="rotate(-90 24.30 94.80)" >2</text>
<text x="9.4" y="201.9" font-size="10.55" text-anchor="middle" transform="rotate(-90 9.4 201.9)">log SFR<tspan font-size="6.5" dy="1.6">Hα</tspan><tspan dy="-1.6"> (M</tspan><tspan font-size="8.6" dy="1.8">⊙</tspan><tspan dy="-1.8"> yr</tspan><tspan font-size="7" dy="-3.6">−1</tspan><tspan dy="3.6">)</tspan></text>
<text x="24.20" y="37.90" font-size="8.4" text-anchor="middle" transform="rotate(-90 24.20 37.90)" >0.2</text>
<text x="24.20" y="83.90" font-size="8.4" text-anchor="middle" transform="rotate(-90 24.20 83.90)" >0.0</text>
<text x="12.40" y="40.40" font-size="8" text-anchor="middle" transform="rotate(-90 12.40 40.40)" >fraction</text>
<rect x="36.00" y="7.70" width="13.80" height="4.10" fill="#1e90ff" fill-opacity="0.6"/>
<rect x="36.00" y="17.90" width="13.80" height="4.10" fill="#ff8c00" fill-opacity="0.6"/>
<text x="52.60" y="12.30" font-size="7" text-anchor="start" >AMUSING++</text>
<text x="52.60" y="22.50" font-size="7" text-anchor="start" >outflows</text>
<text x="249.60" y="332.10" font-size="8.4" text-anchor="middle" >0.0</text>
<text x="286.10" y="332.10" font-size="8.4" text-anchor="middle" >0.1</text>
<text x="322.60" y="332.10" font-size="8.4" text-anchor="middle" >0.2</text>
<text x="286.00" y="344.20" font-size="8" text-anchor="middle" >fraction</text>
<text x="353.00" y="147.70" font-size="8.4" text-anchor="middle" transform="rotate(-90 353.00 147.70)" >0.2</text>
<text x="353.00" y="202.65" font-size="8.4" text-anchor="middle" transform="rotate(-90 353.00 202.65)" >0.1</text>
<text x="353.00" y="256.40" font-size="8.4" text-anchor="middle" transform="rotate(-90 353.00 256.40)" >0.0</text>
<text x="341.40" y="198.50" font-size="10.3" text-anchor="middle" transform="rotate(-90 341.40 198.50)" >fraction</text>
<text x="363.40" y="263.00" font-size="8.4" text-anchor="middle" >−1</text>
<text x="415.50" y="263.00" font-size="8.4" text-anchor="middle" >0</text>
<text x="467.60" y="263.00" font-size="8.4" text-anchor="middle" >1</text>
<text x="415.70" y="275.80" font-size="10.1" text-anchor="middle" >Δ SFR</text>
</svg>
</body></html>
